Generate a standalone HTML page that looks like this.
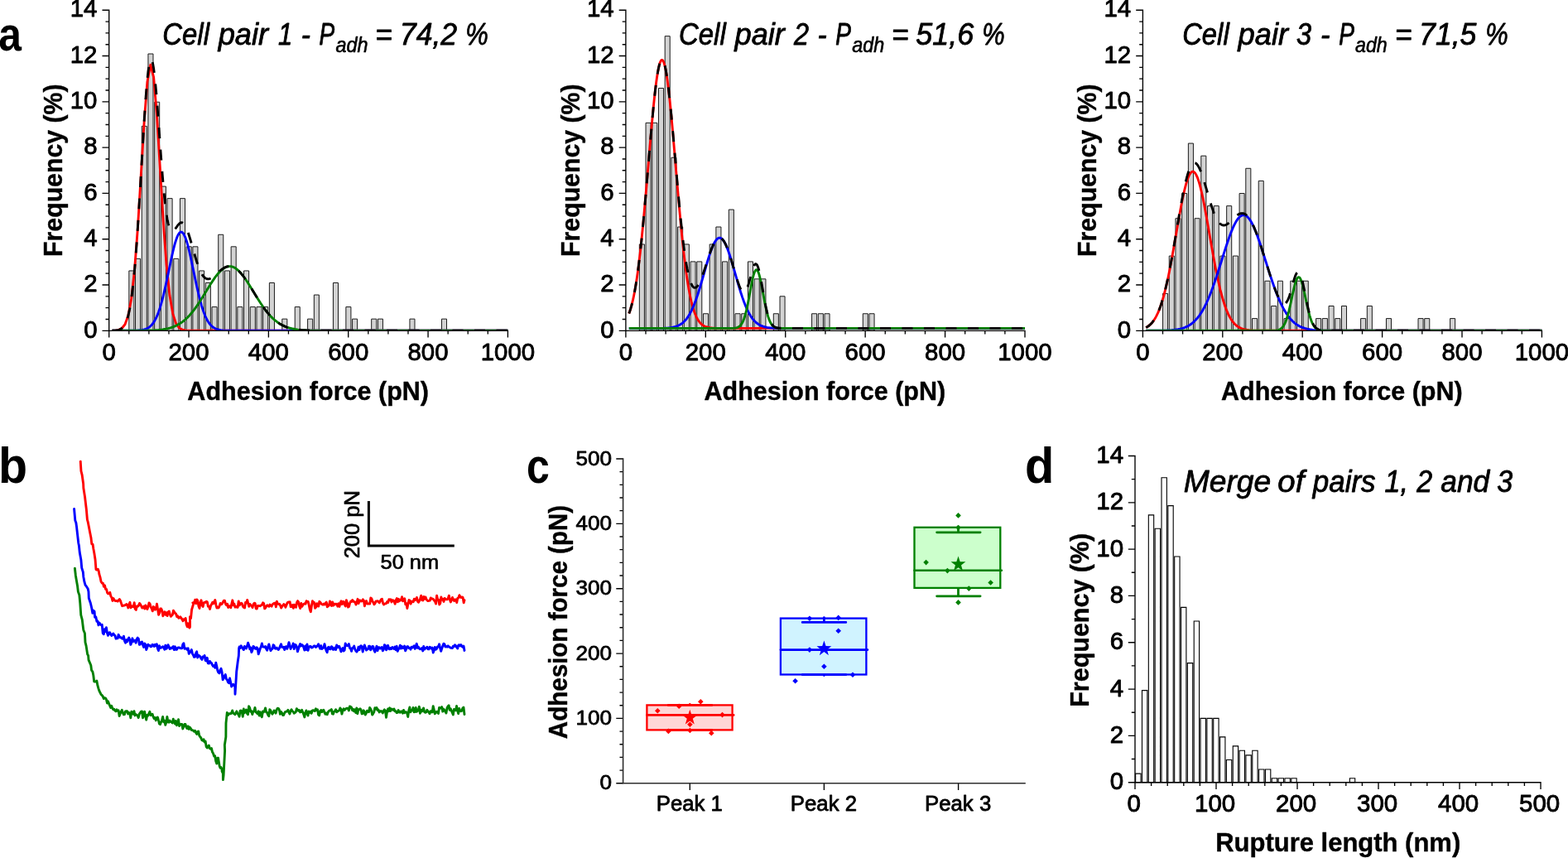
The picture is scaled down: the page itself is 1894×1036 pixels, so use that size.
<!DOCTYPE html>
<html lang="en">
<head>
<meta charset="utf-8">
<title>Figure</title>
<style>
html,body{margin:0;padding:0;background:#fff;}
body{width:1894px;height:1036px;overflow:hidden;}
svg{display:block;}
text{font-family:"Liberation Sans",sans-serif;}
</style>
</head>
<body>
<svg width="1894" height="1036" viewBox="0 0 1894 1036" role="img" aria-label="Figure with panels a, b, c and d">
<rect width="1894" height="1036" fill="#fff"/>
<path d="M155.82 399.3V326.95h6.05V399.3zM163.53 399.3V312.4h6.05V399.3zM171.24 399.3V152.34h6.05V399.3zM178.94 399.3V65.03h6.05V399.3zM186.65 399.3V123.24h6.05V399.3zM194.36 399.3V225.09h6.05V399.3zM202.06 399.3V239.64h6.05V399.3zM209.77 399.3V312.4h6.05V399.3zM217.48 399.3V239.64h6.05V399.3zM225.19 399.3V297.84h6.05V399.3zM232.89 399.3V297.84h6.05V399.3zM240.6 399.3V326.95h6.05V399.3zM248.31 399.3V341.5h6.05V399.3zM256.02 399.3V370.6h6.05V399.3zM263.72 399.3V283.29h6.05V399.3zM271.43 399.3V326.95h6.05V399.3zM279.14 399.3V297.84h6.05V399.3zM286.84 399.3V370.6h6.05V399.3zM294.55 399.3V326.95h6.05V399.3zM302.26 399.3V370.6h6.05V399.3zM309.97 399.3V370.6h6.05V399.3zM317.67 399.3V370.6h6.05V399.3zM325.38 399.3V341.5h6.05V399.3zM340.79 399.3V385.15h6.05V399.3zM356.21 399.3V370.6h6.05V399.3zM371.62 399.3V385.15h6.05V399.3zM379.33 399.3V356.05h6.05V399.3zM402.45 399.3V341.5h6.05V399.3zM417.87 399.3V370.6h6.05V399.3zM425.57 399.3V385.15h6.05V399.3zM448.7 399.3V385.15h6.05V399.3zM456.4 399.3V385.15h6.05V399.3zM494.94 399.3V385.15h6.05V399.3zM533.47 399.3V385.15h6.05V399.3z" fill="#d3d3d3" stroke="#1c1c1c" stroke-width="1" stroke-linejoin="miter"/>
<clipPath id="clip1"><rect x="131.7" y="7.25" width="483.7" height="392.05"/></clipPath>
<g clip-path="url(#clip1)">
<path d="M135.55 399.23 L139.41 399.02 L143.26 398.36 L147.11 396.47 L150.97 391.72 L154.82 381.19 L158.68 360.76 L162.53 326.16 L166.38 275.56 L170.24 212.7 L174.09 148.45 L177.94 98.69 L181.8 78.15 L185.65 93.46 L189.5 139.65 L197.21 266.73 L201.06 319.57 L204.92 356.56 L208.77 378.87 L212.63 390.6 L216.48 395.99 L220.33 398.18 L224.19 398.96 L228.04 399.21 L235.75 399.3 L389.89 399.3 L544.04 399.3 L613.4 399.3" stroke="#ff0000" stroke-width="2.9" stroke-linejoin="round" fill="none"/>
<path d="M135.55 399.3 L159.64 399.25 L165.42 399.1 L169.27 398.81 L172.16 398.39 L174.09 397.95 L176.02 397.33 L176.98 396.94 L177.94 396.47 L178.91 395.94 L179.87 395.31 L180.83 394.59 L181.8 393.76 L182.76 392.82 L183.72 391.74 L184.69 390.52 L185.65 389.15 L186.61 387.61 L187.58 385.89 L188.54 383.99 L189.5 381.89 L190.47 379.58 L191.43 377.06 L192.39 374.32 L193.36 371.36 L194.32 368.18 L196.25 361.17 L198.17 353.36 L200.1 344.86 L203.95 326.56 L206.85 312.77 L208.77 304.16 L209.74 300.16 L210.7 296.42 L211.66 292.98 L212.63 289.88 L213.59 287.16 L214.55 284.85 L215.52 282.98 L216.48 281.56 L217.44 280.63 L218.41 280.18 L219.37 280.23 L220.33 280.78 L221.3 281.81 L222.26 283.31 L223.22 285.28 L224.19 287.67 L225.15 290.47 L226.11 293.64 L227.08 297.14 L228.04 300.94 L229.97 309.25 L232.86 322.84 L236.71 341.3 L238.64 350.03 L240.56 358.14 L242.49 365.48 L243.45 368.84 L244.42 371.97 L245.38 374.89 L246.34 377.58 L247.31 380.06 L248.27 382.33 L249.23 384.39 L250.2 386.25 L251.16 387.93 L252.12 389.44 L253.09 390.78 L254.05 391.97 L255.02 393.01 L255.98 393.94 L256.94 394.74 L257.91 395.44 L258.87 396.05 L259.83 396.57 L260.8 397.02 L262.72 397.73 L264.65 398.23 L266.58 398.59 L269.47 398.92 L273.32 399.15 L281.03 399.28 L319.56 399.3 L358.1 399.3 L396.63 399.3 L435.17 399.3 L473.71 399.3 L512.24 399.3 L550.78 399.3 L589.31 399.3 L613.4 399.3" stroke="#0000ff" stroke-width="2.9" stroke-linejoin="round" fill="none"/>
<path d="M135.55 399.3 L169.27 399.24 L179.87 399.06 L186.61 398.79 L191.43 398.44 L196.25 397.89 L200.1 397.26 L202.99 396.63 L205.88 395.85 L208.77 394.89 L211.66 393.71 L214.55 392.29 L217.44 390.6 L220.33 388.61 L223.22 386.3 L226.11 383.65 L229 380.64 L231.89 377.29 L234.78 373.6 L237.67 369.59 L240.56 365.31 L244.42 359.26 L254.05 343.57 L256.94 339.11 L259.83 334.94 L261.76 332.38 L263.69 330.03 L265.61 327.93 L267.54 326.09 L269.47 324.54 L270.43 323.89 L271.39 323.31 L272.36 322.81 L273.32 322.4 L274.28 322.08 L275.25 321.84 L276.21 321.68 L277.17 321.62 L278.14 321.64 L279.1 321.75 L280.06 321.94 L281.03 322.23 L281.99 322.6 L282.95 323.05 L283.92 323.59 L284.88 324.21 L285.84 324.9 L287.77 326.52 L289.7 328.43 L291.62 330.6 L293.55 333 L296.44 336.98 L299.33 341.31 L304.15 349.02 L310.89 360.03 L314.75 366.04 L317.64 370.28 L320.53 374.24 L323.42 377.87 L326.31 381.17 L329.2 384.11 L332.09 386.71 L334.98 388.96 L337.87 390.9 L340.76 392.54 L343.65 393.92 L346.54 395.06 L349.43 395.99 L352.32 396.75 L356.17 397.52 L360.03 398.08 L364.84 398.56 L370.62 398.91 L379.29 399.16 L395.67 399.28 L434.21 399.3 L472.74 399.3 L511.28 399.3 L549.82 399.3 L588.35 399.3 L613.4 399.3" stroke="#008000" stroke-width="2.9" stroke-linejoin="round" fill="none"/>
<path d="M135.55 399.23 L138.44 399.1 L140.37 398.92 L142.3 398.6 L143.26 398.36 L144.22 398.04 L145.19 397.64 L146.15 397.12 L147.11 396.47 L148.08 395.63 L149.04 394.59 L150 393.3 L150.97 391.71 L151.93 389.76 L152.89 387.4 L153.86 384.56 L154.82 381.17 L155.78 377.17 L156.75 372.47 L157.71 367 L158.68 360.7 L159.64 353.51 L160.6 345.35 L161.57 336.21 L162.53 326.03 L163.49 314.82 L164.46 302.6 L165.42 289.39 L167.35 260.33 L170.24 212.03 L173.13 162.6 L175.05 132.23 L176.02 118.6 L176.98 106.34 L177.94 95.67 L178.91 86.79 L179.87 79.87 L180.83 75.02 L181.8 72.32 L182.76 71.8 L183.72 73.43 L184.69 77.16 L185.65 82.85 L186.61 90.34 L187.58 99.45 L188.54 109.93 L189.5 121.54 L191.43 147.05 L194.32 187.01 L196.25 211.91 L197.21 223.25 L198.17 233.65 L199.14 243.02 L200.1 251.3 L201.06 258.44 L202.03 264.44 L202.99 269.33 L203.95 273.16 L204.92 275.99 L205.88 277.92 L206.85 279.05 L207.81 279.48 L208.77 279.32 L209.74 278.69 L210.7 277.72 L211.66 276.5 L214.55 272.4 L215.52 271.18 L216.48 270.15 L217.44 269.38 L218.41 268.9 L219.37 268.76 L220.33 268.97 L221.3 269.54 L222.26 270.5 L223.22 271.81 L224.19 273.49 L225.15 275.49 L226.11 277.81 L227.08 280.4 L228.04 283.23 L229.97 289.47 L235.75 309.75 L237.67 316.02 L238.64 318.92 L239.6 321.64 L240.56 324.15 L241.53 326.44 L242.49 328.5 L243.45 330.33 L244.42 331.93 L245.38 333.29 L246.34 334.41 L247.31 335.31 L248.27 336 L249.23 336.48 L250.2 336.76 L251.16 336.86 L252.12 336.8 L253.09 336.59 L254.05 336.24 L255.02 335.77 L255.98 335.2 L257.91 333.82 L260.8 331.35 L265.61 327.05 L267.54 325.51 L269.47 324.17 L271.39 323.07 L272.36 322.62 L273.32 322.25 L274.28 321.96 L275.25 321.74 L276.21 321.61 L277.17 321.56 L278.14 321.59 L279.1 321.71 L280.06 321.92 L281.03 322.21 L281.99 322.58 L282.95 323.04 L283.92 323.58 L284.88 324.2 L285.84 324.9 L287.77 326.52 L289.7 328.43 L291.62 330.6 L293.55 333 L296.44 336.98 L299.33 341.31 L304.15 349.02 L310.89 360.03 L314.75 366.04 L317.64 370.28 L320.53 374.24 L323.42 377.87 L326.31 381.17 L329.2 384.11 L332.09 386.71 L334.98 388.96 L337.87 390.9 L340.76 392.54 L343.65 393.92 L346.54 395.06 L349.43 395.99 L352.32 396.75 L356.17 397.52 L360.03 398.08 L364.84 398.56 L370.62 398.91 L379.29 399.16 L395.67 399.28 L434.21 399.3 L472.74 399.3 L511.28 399.3 L549.82 399.3 L588.35 399.3 L613.4 399.3" stroke="#000" stroke-width="2.9" stroke-dasharray="13 13.5" stroke-linejoin="round" fill="none"/>
</g>
<path d="M131.7 11.57L131.7 399.98M131.02 399.3L614.07 399.3M123.5 399.3L131.7 399.3M127.5 385.48L131.7 385.48M127.5 371.65L131.7 371.65M127.5 357.83L131.7 357.83M123.5 344.01L131.7 344.01M127.5 330.18L131.7 330.18M127.5 316.36L131.7 316.36M127.5 302.54L131.7 302.54M123.5 288.71L131.7 288.71M127.5 274.89L131.7 274.89M127.5 261.07L131.7 261.07M127.5 247.24L131.7 247.24M123.5 233.42L131.7 233.42M127.5 219.6L131.7 219.6M127.5 205.78L131.7 205.78M127.5 191.95L131.7 191.95M123.5 178.13L131.7 178.13M127.5 164.31L131.7 164.31M127.5 150.48L131.7 150.48M127.5 136.66L131.7 136.66M123.5 122.84L131.7 122.84M127.5 109.01L131.7 109.01M127.5 95.19L131.7 95.19M127.5 81.37L131.7 81.37M123.5 67.54L131.7 67.54M127.5 53.72L131.7 53.72M127.5 39.9L131.7 39.9M127.5 26.07L131.7 26.07M123.5 12.25L131.7 12.25M131.7 399.3L131.7 407.5M155.78 399.3L155.78 403.5M179.87 399.3L179.87 403.5M203.95 399.3L203.95 403.5M228.04 399.3L228.04 407.5M252.12 399.3L252.12 403.5M276.21 399.3L276.21 403.5M300.29 399.3L300.29 403.5M324.38 399.3L324.38 407.5M348.46 399.3L348.46 403.5M372.55 399.3L372.55 403.5M396.63 399.3L396.63 403.5M420.72 399.3L420.72 407.5M444.8 399.3L444.8 403.5M468.89 399.3L468.89 403.5M492.97 399.3L492.97 403.5M517.06 399.3L517.06 407.5M541.14 399.3L541.14 403.5M565.23 399.3L565.23 403.5M589.31 399.3L589.31 403.5M613.4 399.3L613.4 407.5" stroke="#000" stroke-width="1.35" fill="none"/>
<text transform="matrix(1.0150 0 0 1.0400 101.13 407.50)" font-size="29" stroke="#000" stroke-width="0.88" stroke-linejoin="round">0</text>
<text transform="matrix(1.0150 0 0 1.0400 101.13 352.21)" font-size="29" stroke="#000" stroke-width="0.88" stroke-linejoin="round">2</text>
<text transform="matrix(1.0150 0 0 1.0400 101.13 296.91)" font-size="29" stroke="#000" stroke-width="0.88" stroke-linejoin="round">4</text>
<text transform="matrix(1.0150 0 0 1.0400 101.13 241.62)" font-size="29" stroke="#000" stroke-width="0.88" stroke-linejoin="round">6</text>
<text transform="matrix(1.0150 0 0 1.0400 101.13 186.33)" font-size="29" stroke="#000" stroke-width="0.88" stroke-linejoin="round">8</text>
<text transform="matrix(1.0150 0 0 1.0400 84.76 131.04)" font-size="29" stroke="#000" stroke-width="0.88" stroke-linejoin="round">10</text>
<text transform="matrix(1.0150 0 0 1.0400 84.76 75.74)" font-size="29" stroke="#000" stroke-width="0.88" stroke-linejoin="round">12</text>
<text transform="matrix(1.0150 0 0 1.0400 84.76 20.45)" font-size="29" stroke="#000" stroke-width="0.88" stroke-linejoin="round">14</text>
<text transform="matrix(1.0150 0 0 1.0400 123.51 435.30)" font-size="29" stroke="#000" stroke-width="0.88" stroke-linejoin="round">0</text>
<text transform="matrix(1.0150 0 0 1.0400 203.48 435.30)" font-size="29" stroke="#000" stroke-width="0.88" stroke-linejoin="round">200</text>
<text transform="matrix(1.0150 0 0 1.0400 299.82 435.30)" font-size="29" stroke="#000" stroke-width="0.88" stroke-linejoin="round">400</text>
<text transform="matrix(1.0150 0 0 1.0400 396.16 435.30)" font-size="29" stroke="#000" stroke-width="0.88" stroke-linejoin="round">600</text>
<text transform="matrix(1.0150 0 0 1.0400 492.50 435.30)" font-size="29" stroke="#000" stroke-width="0.88" stroke-linejoin="round">800</text>
<text transform="matrix(1.0150 0 0 1.0400 580.66 435.30)" font-size="29" stroke="#000" stroke-width="0.88" stroke-linejoin="round">1000</text>
<text transform="matrix(0 -1.0164 1.0400 0 75.30 309.97)" font-size="29.8" font-weight="bold" stroke="#000" stroke-width="0.39" stroke-linejoin="round">Frequency (%)</text>
<text transform="matrix(1.0248 0 0 1.0400 226.34 483.10)" font-size="29.8" font-weight="bold" stroke="#000" stroke-width="0.39" stroke-linejoin="round">Adhesion force (pN)</text>
<path d="M772.33 399.3V294.98h6.05V399.3zM780.04 399.3V148.37h6.05V399.3zM787.75 399.3V148.37h6.05V399.3zM795.47 399.3V106.48h6.05V399.3zM803.18 399.3V43.65h6.05V399.3zM810.9 399.3V190.26h6.05V399.3zM818.61 399.3V274.03h6.05V399.3zM826.32 399.3V294.98h6.05V399.3zM834.04 399.3V315.92h6.05V399.3zM841.75 399.3V315.92h6.05V399.3zM849.46 399.3V378.76h6.05V399.3zM857.18 399.3V294.98h6.05V399.3zM864.89 399.3V274.03h6.05V399.3zM872.6 399.3V315.92h6.05V399.3zM880.32 399.3V253.09h6.05V399.3zM888.03 399.3V378.76h6.05V399.3zM895.74 399.3V378.76h6.05V399.3zM903.46 399.3V315.92h6.05V399.3zM911.17 399.3V336.87h6.05V399.3zM918.89 399.3V336.87h6.05V399.3zM934.31 399.3V378.76h6.05V399.3zM942.03 399.3V357.81h6.05V399.3zM980.59 399.3V378.76h6.05V399.3zM988.31 399.3V378.76h6.05V399.3zM996.02 399.3V378.76h6.05V399.3zM1042.3 399.3V378.76h6.05V399.3zM1050.02 399.3V378.76h6.05V399.3z" fill="#d3d3d3" stroke="#1c1c1c" stroke-width="1" stroke-linejoin="miter"/>
<clipPath id="clip2"><rect x="755.9" y="7.25" width="484.1" height="392.05"/></clipPath>
<g clip-path="url(#clip2)">
<path d="M759.76 378.56 L760.72 375.91 L761.69 372.94 L762.65 369.63 L763.61 365.96 L764.58 361.9 L765.54 357.44 L766.51 352.55 L767.47 347.21 L768.43 341.4 L769.4 335.12 L770.36 328.36 L771.33 321.1 L773.26 305.13 L775.18 287.25 L777.11 267.64 L780 235.58 L785.79 167.52 L787.72 145.86 L789.65 125.85 L790.61 116.68 L791.58 108.19 L792.54 100.44 L793.5 93.52 L794.47 87.49 L795.43 82.41 L796.4 78.32 L797.36 75.28 L798.32 73.31 L799.29 72.43 L800.25 72.65 L801.22 73.97 L802.18 76.37 L803.15 79.83 L804.11 84.32 L805.07 89.79 L806.04 96.19 L807 103.45 L807.97 111.5 L808.93 120.28 L810.86 139.65 L812.79 160.89 L819.54 240 L822.43 271.69 L824.36 290.97 L826.29 308.48 L828.21 324.07 L829.18 331.12 L830.14 337.69 L831.11 343.78 L832.07 349.4 L833.04 354.56 L834 359.28 L834.96 363.57 L835.93 367.47 L836.89 371 L837.86 374.17 L838.82 377.01 L839.79 379.54 L840.75 381.79 L841.71 383.79 L842.68 385.55 L843.64 387.09 L844.61 388.45 L845.57 389.62 L846.53 390.65 L847.5 391.53 L848.46 392.3 L849.43 392.95 L850.39 393.51 L851.36 393.99 L853.28 394.74 L855.21 395.27 L857.14 395.64 L860.03 395.99 L863.89 396.23 L870.64 396.37 L909.21 396.4 L947.78 396.4 L986.34 396.4 L1024.91 396.4 L1063.48 396.4 L1102.05 396.4 L1140.62 396.4 L1179.18 396.4 L1217.75 396.4 L1238 396.4" stroke="#ff0000" stroke-width="2.9" stroke-linejoin="round" fill="none"/>
<path d="M759.76 396.4 L794.47 396.36 L802.18 396.21 L807 395.94 L809.9 395.64 L812.79 395.18 L815.68 394.5 L817.61 393.86 L819.54 393.06 L821.47 392.04 L823.39 390.78 L824.36 390.04 L825.32 389.22 L826.29 388.32 L827.25 387.33 L828.21 386.24 L829.18 385.05 L830.14 383.76 L831.11 382.36 L832.07 380.85 L833.04 379.21 L834.96 375.57 L836.89 371.43 L838.82 366.78 L840.75 361.62 L842.68 356 L845.57 346.8 L849.43 333.56 L854.25 316.77 L856.18 310.46 L858.11 304.62 L859.07 301.93 L860.03 299.41 L861 297.09 L861.96 294.98 L862.93 293.1 L863.89 291.45 L864.85 290.06 L865.82 288.94 L866.78 288.09 L867.75 287.52 L868.71 287.23 L869.68 287.23 L870.64 287.52 L871.6 288.09 L872.57 288.94 L873.53 290.06 L874.5 291.45 L875.46 293.1 L876.42 294.98 L877.39 297.09 L878.35 299.41 L879.32 301.93 L881.25 307.48 L883.17 313.57 L886.07 323.39 L891.85 343.57 L894.74 353.03 L896.67 358.87 L898.6 364.26 L900.53 369.17 L902.46 373.57 L904.39 377.45 L905.35 379.21 L906.32 380.85 L907.28 382.36 L908.24 383.76 L909.21 385.05 L910.17 386.24 L911.14 387.33 L912.1 388.32 L913.06 389.22 L914.03 390.04 L915.96 391.44 L917.89 392.58 L919.81 393.48 L921.74 394.2 L923.67 394.76 L926.56 395.36 L929.46 395.76 L933.31 396.07 L939.1 396.29 L951.63 396.39 L990.2 396.4 L1028.77 396.4 L1067.34 396.4 L1105.9 396.4 L1144.47 396.4 L1183.04 396.4 L1221.61 396.4 L1238 396.4" stroke="#0000ff" stroke-width="2.9" stroke-linejoin="round" fill="none"/>
<path d="M759.76 396.4 L798.32 396.4 L836.89 396.4 L875.46 396.4 L884.14 396.34 L887.03 396.17 L888.96 395.9 L889.92 395.67 L890.89 395.35 L891.85 394.91 L892.82 394.32 L893.78 393.54 L894.74 392.53 L895.71 391.24 L896.67 389.61 L897.64 387.62 L898.6 385.2 L899.57 382.33 L900.53 378.99 L901.49 375.18 L902.46 370.92 L903.42 366.26 L905.35 356.1 L907.28 345.66 L908.24 340.74 L909.21 336.25 L910.17 332.38 L911.14 329.27 L912.1 327.06 L913.06 325.85 L914.03 325.69 L914.99 326.59 L915.96 328.5 L916.92 331.36 L917.89 335.02 L918.85 339.34 L920.78 349.27 L923.67 364.8 L924.63 369.56 L925.6 373.95 L926.56 377.89 L927.53 381.38 L928.49 384.39 L929.46 386.94 L930.42 389.06 L931.38 390.79 L932.35 392.17 L933.31 393.26 L934.28 394.11 L935.24 394.75 L936.21 395.23 L937.17 395.58 L938.13 395.84 L940.06 396.14 L942.95 396.33 L951.63 396.4 L990.2 396.4 L1028.77 396.4 L1067.34 396.4 L1105.9 396.4 L1144.47 396.4 L1183.04 396.4 L1221.61 396.4 L1238 396.4" stroke="#008000" stroke-width="2.9" stroke-linejoin="round" fill="none"/>
<path d="M759.76 378.56 L760.72 375.91 L761.69 372.94 L762.65 369.63 L763.61 365.96 L764.58 361.9 L765.54 357.44 L766.51 352.55 L767.47 347.21 L768.43 341.4 L769.4 335.12 L770.36 328.36 L771.33 321.1 L773.26 305.13 L775.18 287.25 L777.11 267.64 L780 235.58 L785.79 167.52 L787.72 145.85 L789.65 125.84 L790.61 116.67 L791.58 108.17 L792.54 100.42 L793.5 93.49 L794.47 87.45 L795.43 82.36 L796.4 78.26 L797.36 75.21 L798.32 73.22 L799.29 72.32 L800.25 72.52 L801.22 73.81 L802.18 76.18 L803.15 79.61 L804.11 84.05 L805.07 89.47 L806.04 95.8 L807 102.99 L807.97 110.96 L808.93 119.63 L810.86 138.76 L813.75 170.58 L818.57 225.97 L820.5 247.06 L822.43 266.74 L824.36 284.61 L825.32 292.78 L826.29 300.4 L827.25 307.45 L828.21 313.91 L829.18 319.78 L830.14 325.06 L831.11 329.74 L832.07 333.85 L833.04 337.37 L834 340.33 L834.96 342.75 L835.93 344.64 L836.89 346.03 L837.86 346.94 L838.82 347.39 L839.79 347.4 L840.75 347.02 L841.71 346.26 L842.68 345.15 L843.64 343.72 L844.61 342 L845.57 340.03 L846.53 337.82 L847.5 335.41 L849.43 330.11 L852.32 321.39 L856.18 309.54 L858.11 304.01 L860.03 299.01 L861 296.76 L861.96 294.72 L862.93 292.88 L863.89 291.28 L864.85 289.93 L865.82 288.83 L866.78 288 L867.75 287.45 L868.71 287.18 L869.68 287.19 L870.64 287.48 L871.6 288.06 L872.57 288.92 L873.53 290.05 L874.5 291.44 L875.46 293.09 L876.42 294.97 L877.39 297.08 L878.35 299.41 L879.32 301.92 L881.25 307.46 L883.17 313.53 L889.92 336.2 L891.85 342.08 L892.82 344.72 L893.78 347.1 L894.74 349.16 L895.71 350.84 L896.67 352.08 L897.64 352.84 L898.6 353.06 L899.57 352.71 L900.53 351.76 L901.49 350.21 L902.46 348.09 L903.42 345.44 L904.39 342.34 L906.32 335.29 L908.24 328.11 L909.21 324.91 L910.17 322.22 L911.14 320.2 L912.1 318.98 L913.06 318.67 L914.03 319.33 L914.99 320.97 L915.96 323.55 L916.92 327 L917.89 331.2 L918.85 336 L920.78 346.74 L923.67 363.16 L924.63 368.15 L925.6 372.73 L926.56 376.86 L927.53 380.49 L928.49 383.63 L929.46 386.29 L930.42 388.51 L931.38 390.33 L932.35 391.78 L933.31 392.94 L934.28 393.83 L935.24 394.52 L936.21 395.04 L937.17 395.42 L938.13 395.7 L940.06 396.05 L942.95 396.28 L948.74 396.38 L987.31 396.4 L1025.88 396.4 L1064.44 396.4 L1103.01 396.4 L1141.58 396.4 L1180.15 396.4 L1218.72 396.4 L1238 396.4" stroke="#000" stroke-width="2.9" stroke-dasharray="13 13.5" stroke-linejoin="round" fill="none"/>
</g>
<path d="M755.9 11.57L755.9 399.98M755.23 399.3L1238.67 399.3M747.7 399.3L755.9 399.3M751.7 385.48L755.9 385.48M751.7 371.65L755.9 371.65M751.7 357.83L755.9 357.83M747.7 344.01L755.9 344.01M751.7 330.18L755.9 330.18M751.7 316.36L755.9 316.36M751.7 302.54L755.9 302.54M747.7 288.71L755.9 288.71M751.7 274.89L755.9 274.89M751.7 261.07L755.9 261.07M751.7 247.24L755.9 247.24M747.7 233.42L755.9 233.42M751.7 219.6L755.9 219.6M751.7 205.78L755.9 205.78M751.7 191.95L755.9 191.95M747.7 178.13L755.9 178.13M751.7 164.31L755.9 164.31M751.7 150.48L755.9 150.48M751.7 136.66L755.9 136.66M747.7 122.84L755.9 122.84M751.7 109.01L755.9 109.01M751.7 95.19L755.9 95.19M751.7 81.37L755.9 81.37M747.7 67.54L755.9 67.54M751.7 53.72L755.9 53.72M751.7 39.9L755.9 39.9M751.7 26.07L755.9 26.07M747.7 12.25L755.9 12.25M755.9 399.3L755.9 407.5M780 399.3L780 403.5M804.11 399.3L804.11 403.5M828.21 399.3L828.21 403.5M852.32 399.3L852.32 407.5M876.42 399.3L876.42 403.5M900.53 399.3L900.53 403.5M924.63 399.3L924.63 403.5M948.74 399.3L948.74 407.5M972.85 399.3L972.85 403.5M996.95 399.3L996.95 403.5M1021.06 399.3L1021.06 403.5M1045.16 399.3L1045.16 407.5M1069.26 399.3L1069.26 403.5M1093.37 399.3L1093.37 403.5M1117.47 399.3L1117.47 403.5M1141.58 399.3L1141.58 407.5M1165.68 399.3L1165.68 403.5M1189.79 399.3L1189.79 403.5M1213.89 399.3L1213.89 403.5M1238 399.3L1238 407.5" stroke="#000" stroke-width="1.35" fill="none"/>
<text transform="matrix(1.0150 0 0 1.0400 725.33 407.50)" font-size="29" stroke="#000" stroke-width="0.88" stroke-linejoin="round">0</text>
<text transform="matrix(1.0150 0 0 1.0400 725.33 352.21)" font-size="29" stroke="#000" stroke-width="0.88" stroke-linejoin="round">2</text>
<text transform="matrix(1.0150 0 0 1.0400 725.33 296.91)" font-size="29" stroke="#000" stroke-width="0.88" stroke-linejoin="round">4</text>
<text transform="matrix(1.0150 0 0 1.0400 725.33 241.62)" font-size="29" stroke="#000" stroke-width="0.88" stroke-linejoin="round">6</text>
<text transform="matrix(1.0150 0 0 1.0400 725.33 186.33)" font-size="29" stroke="#000" stroke-width="0.88" stroke-linejoin="round">8</text>
<text transform="matrix(1.0150 0 0 1.0400 708.96 131.04)" font-size="29" stroke="#000" stroke-width="0.88" stroke-linejoin="round">10</text>
<text transform="matrix(1.0150 0 0 1.0400 708.96 75.74)" font-size="29" stroke="#000" stroke-width="0.88" stroke-linejoin="round">12</text>
<text transform="matrix(1.0150 0 0 1.0400 708.96 20.45)" font-size="29" stroke="#000" stroke-width="0.88" stroke-linejoin="round">14</text>
<text transform="matrix(1.0150 0 0 1.0400 747.71 435.30)" font-size="29" stroke="#000" stroke-width="0.88" stroke-linejoin="round">0</text>
<text transform="matrix(1.0150 0 0 1.0400 827.76 435.30)" font-size="29" stroke="#000" stroke-width="0.88" stroke-linejoin="round">200</text>
<text transform="matrix(1.0150 0 0 1.0400 924.18 435.30)" font-size="29" stroke="#000" stroke-width="0.88" stroke-linejoin="round">400</text>
<text transform="matrix(1.0150 0 0 1.0400 1020.60 435.30)" font-size="29" stroke="#000" stroke-width="0.88" stroke-linejoin="round">600</text>
<text transform="matrix(1.0150 0 0 1.0400 1117.02 435.30)" font-size="29" stroke="#000" stroke-width="0.88" stroke-linejoin="round">800</text>
<text transform="matrix(1.0150 0 0 1.0400 1205.26 435.30)" font-size="29" stroke="#000" stroke-width="0.88" stroke-linejoin="round">1000</text>
<text transform="matrix(0 -1.0164 1.0400 0 699.50 309.97)" font-size="29.8" font-weight="bold" stroke="#000" stroke-width="0.39" stroke-linejoin="round">Frequency (%)</text>
<text transform="matrix(1.0248 0 0 1.0400 850.54 483.10)" font-size="29.8" font-weight="bold" stroke="#000" stroke-width="0.39" stroke-linejoin="round">Adhesion force (pN)</text>
<path d="M1404.54 399.3V354.38h6.05V399.3zM1412.25 399.3V309.06h6.05V399.3zM1419.96 399.3V263.73h6.05V399.3zM1427.67 399.3V233.52h6.05V399.3zM1435.38 399.3V173.09h6.05V399.3zM1443.1 399.3V263.73h6.05V399.3zM1450.81 399.3V188.2h6.05V399.3zM1458.52 399.3V248.63h6.05V399.3zM1466.23 399.3V248.63h6.05V399.3zM1473.94 399.3V309.06h6.05V399.3zM1481.66 399.3V248.63h6.05V399.3zM1489.37 399.3V309.06h6.05V399.3zM1497.08 399.3V233.52h6.05V399.3zM1504.79 399.3V203.3h6.05V399.3zM1512.5 399.3V384.59h6.05V399.3zM1520.22 399.3V218.41h6.05V399.3zM1527.93 399.3V339.27h6.05V399.3zM1535.64 399.3V369.49h6.05V399.3zM1543.35 399.3V339.27h6.05V399.3zM1551.06 399.3V384.59h6.05V399.3zM1558.78 399.3V339.27h6.05V399.3zM1566.49 399.3V339.27h6.05V399.3zM1574.2 399.3V339.27h6.05V399.3zM1589.62 399.3V384.59h6.05V399.3zM1597.34 399.3V384.59h6.05V399.3zM1605.05 399.3V369.49h6.05V399.3zM1612.76 399.3V384.59h6.05V399.3zM1620.47 399.3V369.49h6.05V399.3zM1643.61 399.3V384.59h6.05V399.3zM1651.32 399.3V369.49h6.05V399.3zM1674.46 399.3V384.59h6.05V399.3zM1713.02 399.3V384.59h6.05V399.3zM1720.73 399.3V384.59h6.05V399.3zM1751.58 399.3V384.59h6.05V399.3z" fill="#d3d3d3" stroke="#1c1c1c" stroke-width="1" stroke-linejoin="miter"/>
<clipPath id="clip3"><rect x="1380.4" y="7.25" width="484" height="392.05"/></clipPath>
<g clip-path="url(#clip3)">
<path d="M1384.26 395.55 L1386.18 394.42 L1387.15 393.75 L1388.11 393.01 L1389.08 392.18 L1390.04 391.25 L1391 390.23 L1391.97 389.11 L1392.93 387.87 L1393.9 386.51 L1394.86 385.01 L1395.82 383.39 L1396.79 381.61 L1397.75 379.69 L1398.72 377.6 L1399.68 375.35 L1400.64 372.92 L1401.61 370.32 L1403.54 364.55 L1405.46 358.01 L1407.39 350.69 L1409.32 342.59 L1411.25 333.74 L1413.18 324.21 L1416.07 308.82 L1420.89 281.37 L1424.74 259.4 L1426.67 249.01 L1428.6 239.32 L1430.53 230.55 L1431.49 226.58 L1432.46 222.93 L1433.42 219.61 L1434.38 216.64 L1435.35 214.05 L1436.31 211.85 L1437.28 210.07 L1438.24 208.7 L1439.2 207.76 L1440.17 207.25 L1441.13 207.18 L1442.1 207.56 L1443.06 208.37 L1444.02 209.61 L1444.99 211.27 L1445.95 213.35 L1446.92 215.82 L1447.88 218.68 L1448.84 221.9 L1449.81 225.45 L1450.77 229.33 L1452.7 237.94 L1454.63 247.51 L1457.52 263.16 L1465.23 307.22 L1468.12 322.73 L1470.05 332.36 L1471.98 341.31 L1473.91 349.52 L1475.84 356.96 L1477.76 363.61 L1479.69 369.5 L1480.66 372.16 L1481.62 374.64 L1482.58 376.94 L1483.55 379.08 L1484.51 381.05 L1485.48 382.87 L1486.44 384.54 L1487.4 386.07 L1488.37 387.47 L1489.33 388.75 L1490.3 389.91 L1491.26 390.96 L1492.22 391.91 L1493.19 392.77 L1494.15 393.54 L1495.12 394.23 L1497.04 395.4 L1498.97 396.33 L1500.9 397.06 L1502.83 397.62 L1505.72 398.23 L1508.61 398.63 L1512.47 398.96 L1518.25 399.18 L1529.82 399.29 L1568.38 399.3 L1606.94 399.3 L1645.5 399.3 L1684.06 399.3 L1722.62 399.3 L1761.18 399.3 L1799.74 399.3 L1838.3 399.3 L1862.4 399.3" stroke="#ff0000" stroke-width="2.9" stroke-linejoin="round" fill="none"/>
<path d="M1384.26 399.29 L1401.61 399.19 L1409.32 398.99 L1415.1 398.66 L1418.96 398.28 L1422.82 397.71 L1425.71 397.1 L1428.6 396.31 L1431.49 395.28 L1433.42 394.43 L1435.35 393.44 L1437.28 392.28 L1439.2 390.94 L1441.13 389.39 L1443.06 387.61 L1444.99 385.59 L1446.92 383.31 L1448.84 380.75 L1450.77 377.88 L1452.7 374.71 L1454.63 371.22 L1456.56 367.39 L1458.48 363.24 L1460.41 358.77 L1463.3 351.46 L1466.2 343.52 L1469.09 335.02 L1473.91 320 L1480.66 298.66 L1483.55 290.02 L1485.48 284.62 L1487.4 279.58 L1489.33 274.99 L1491.26 270.89 L1492.22 269.05 L1493.19 267.36 L1494.15 265.83 L1495.12 264.45 L1496.08 263.25 L1497.04 262.21 L1498.01 261.34 L1498.97 260.66 L1499.94 260.15 L1500.9 259.83 L1501.86 259.69 L1502.83 259.74 L1503.79 259.97 L1504.76 260.38 L1505.72 260.98 L1506.68 261.75 L1507.65 262.7 L1508.61 263.83 L1509.58 265.12 L1510.54 266.58 L1511.5 268.19 L1512.47 269.96 L1513.43 271.87 L1515.36 276.09 L1517.29 280.8 L1519.22 285.94 L1522.11 294.27 L1525.96 306.18 L1533.68 330.6 L1536.57 339.33 L1539.46 347.57 L1542.35 355.2 L1544.28 359.91 L1546.21 364.31 L1548.14 368.38 L1550.06 372.12 L1551.99 375.53 L1553.92 378.63 L1555.85 381.41 L1557.78 383.91 L1559.7 386.12 L1561.63 388.08 L1563.56 389.79 L1565.49 391.29 L1567.42 392.59 L1569.34 393.7 L1571.27 394.66 L1573.2 395.47 L1576.09 396.46 L1578.98 397.22 L1581.88 397.79 L1585.73 398.34 L1590.55 398.77 L1596.34 399.05 L1605.98 399.24 L1635.86 399.3 L1674.42 399.3 L1712.98 399.3 L1751.54 399.3 L1790.1 399.3 L1828.66 399.3 L1862.4 399.3" stroke="#0000ff" stroke-width="2.9" stroke-linejoin="round" fill="none"/>
<path d="M1384.26 399.3 L1422.82 399.3 L1461.38 399.3 L1499.94 399.3 L1535.6 399.28 L1539.46 399.16 L1541.39 398.99 L1543.32 398.66 L1544.28 398.4 L1545.24 398.05 L1546.21 397.58 L1547.17 396.97 L1548.14 396.18 L1549.1 395.18 L1550.06 393.93 L1551.03 392.4 L1551.99 390.54 L1552.96 388.34 L1553.92 385.76 L1554.88 382.8 L1555.85 379.46 L1556.81 375.76 L1558.74 367.46 L1562.6 349.68 L1563.56 345.68 L1564.52 342.13 L1565.49 339.15 L1566.45 336.85 L1567.42 335.33 L1568.38 334.65 L1569.34 334.82 L1570.31 335.84 L1571.27 337.68 L1572.24 340.26 L1573.2 343.49 L1574.16 347.23 L1576.09 355.77 L1578.98 369.2 L1579.95 373.38 L1580.91 377.28 L1581.88 380.84 L1582.84 384.03 L1583.8 386.84 L1584.77 389.27 L1585.73 391.33 L1586.7 393.05 L1587.66 394.46 L1588.62 395.61 L1589.59 396.52 L1590.55 397.23 L1591.52 397.78 L1592.48 398.2 L1593.44 398.52 L1594.41 398.75 L1596.34 399.04 L1599.23 399.22 L1606.94 399.3 L1645.5 399.3 L1684.06 399.3 L1722.62 399.3 L1761.18 399.3 L1799.74 399.3 L1838.3 399.3 L1862.4 399.3" stroke="#008000" stroke-width="2.9" stroke-linejoin="round" fill="none"/>
<path d="M1384.26 395.55 L1386.18 394.41 L1387.15 393.74 L1388.11 392.99 L1389.08 392.16 L1390.04 391.24 L1391 390.21 L1391.97 389.08 L1392.93 387.84 L1393.9 386.47 L1394.86 384.98 L1395.82 383.34 L1396.79 381.56 L1397.75 379.63 L1398.72 377.53 L1399.68 375.27 L1400.64 372.83 L1401.61 370.21 L1402.57 367.4 L1404.5 361.21 L1406.43 354.24 L1408.36 346.46 L1410.28 337.91 L1412.21 328.61 L1415.1 313.44 L1418 297.1 L1424.74 257.43 L1427.64 241.36 L1429.56 231.5 L1431.49 222.56 L1432.46 218.5 L1433.42 214.74 L1434.38 211.3 L1435.35 208.19 L1436.31 205.44 L1437.28 203.05 L1438.24 201.03 L1439.2 199.39 L1440.17 198.14 L1441.13 197.27 L1442.1 196.79 L1443.06 196.68 L1444.02 196.94 L1444.99 197.57 L1445.95 198.54 L1446.92 199.84 L1447.88 201.44 L1448.84 203.34 L1449.81 205.51 L1450.77 207.91 L1451.74 210.54 L1453.66 216.32 L1456.56 225.9 L1461.38 242.38 L1463.3 248.52 L1465.23 254.15 L1466.2 256.73 L1467.16 259.12 L1468.12 261.33 L1469.09 263.34 L1470.05 265.14 L1471.02 266.73 L1471.98 268.1 L1472.94 269.27 L1473.91 270.22 L1474.87 270.97 L1475.84 271.51 L1476.8 271.86 L1477.76 272.02 L1478.73 272.01 L1479.69 271.84 L1480.66 271.52 L1481.62 271.06 L1482.58 270.48 L1483.55 269.8 L1485.48 268.19 L1488.37 265.4 L1491.26 262.55 L1493.19 260.83 L1494.15 260.07 L1495.12 259.38 L1496.08 258.79 L1497.04 258.31 L1498.01 257.93 L1498.97 257.69 L1499.94 257.57 L1500.9 257.59 L1501.86 257.75 L1502.83 258.06 L1503.79 258.52 L1504.76 259.14 L1505.72 259.91 L1506.68 260.84 L1507.65 261.92 L1508.61 263.16 L1509.58 264.56 L1510.54 266.1 L1511.5 267.78 L1512.47 269.61 L1514.4 273.67 L1516.32 278.22 L1518.25 283.2 L1521.14 291.36 L1524.04 300.11 L1533.68 330.59 L1536.57 339.29 L1539.46 347.42 L1541.39 352.42 L1543.32 356.96 L1544.28 359.02 L1545.24 360.9 L1546.21 362.59 L1547.17 364.05 L1548.14 365.26 L1549.1 366.17 L1550.06 366.75 L1551.03 366.97 L1551.99 366.78 L1552.96 366.16 L1553.92 365.09 L1554.88 363.56 L1555.85 361.58 L1556.81 359.16 L1557.78 356.35 L1558.74 353.21 L1562.6 339.34 L1563.56 336.17 L1564.52 333.4 L1565.49 331.14 L1566.45 329.52 L1567.42 328.62 L1568.38 328.51 L1569.34 329.22 L1570.31 330.74 L1571.27 333.04 L1572.24 336.04 L1573.2 339.66 L1574.16 343.76 L1576.09 352.93 L1578.98 367.12 L1579.95 371.51 L1580.91 375.6 L1581.88 379.33 L1582.84 382.68 L1583.8 385.63 L1584.77 388.19 L1585.73 390.36 L1586.7 392.19 L1587.66 393.7 L1588.62 394.93 L1589.59 395.92 L1590.55 396.7 L1591.52 397.31 L1592.48 397.78 L1593.44 398.15 L1594.41 398.42 L1596.34 398.78 L1599.23 399.05 L1605.01 399.22 L1627.18 399.3 L1665.74 399.3 L1704.3 399.3 L1742.86 399.3 L1781.42 399.3 L1819.98 399.3 L1858.54 399.3 L1862.4 399.3" stroke="#000" stroke-width="2.9" stroke-dasharray="13 13.5" stroke-linejoin="round" fill="none"/>
</g>
<path d="M1380.4 11.57L1380.4 399.98M1379.73 399.3L1863.08 399.3M1372.2 399.3L1380.4 399.3M1376.2 385.48L1380.4 385.48M1376.2 371.65L1380.4 371.65M1376.2 357.83L1380.4 357.83M1372.2 344.01L1380.4 344.01M1376.2 330.18L1380.4 330.18M1376.2 316.36L1380.4 316.36M1376.2 302.54L1380.4 302.54M1372.2 288.71L1380.4 288.71M1376.2 274.89L1380.4 274.89M1376.2 261.07L1380.4 261.07M1376.2 247.24L1380.4 247.24M1372.2 233.42L1380.4 233.42M1376.2 219.6L1380.4 219.6M1376.2 205.78L1380.4 205.78M1376.2 191.95L1380.4 191.95M1372.2 178.13L1380.4 178.13M1376.2 164.31L1380.4 164.31M1376.2 150.48L1380.4 150.48M1376.2 136.66L1380.4 136.66M1372.2 122.84L1380.4 122.84M1376.2 109.01L1380.4 109.01M1376.2 95.19L1380.4 95.19M1376.2 81.37L1380.4 81.37M1372.2 67.54L1380.4 67.54M1376.2 53.72L1380.4 53.72M1376.2 39.9L1380.4 39.9M1376.2 26.07L1380.4 26.07M1372.2 12.25L1380.4 12.25M1380.4 399.3L1380.4 407.5M1404.5 399.3L1404.5 403.5M1428.6 399.3L1428.6 403.5M1452.7 399.3L1452.7 403.5M1476.8 399.3L1476.8 407.5M1500.9 399.3L1500.9 403.5M1525 399.3L1525 403.5M1549.1 399.3L1549.1 403.5M1573.2 399.3L1573.2 407.5M1597.3 399.3L1597.3 403.5M1621.4 399.3L1621.4 403.5M1645.5 399.3L1645.5 403.5M1669.6 399.3L1669.6 407.5M1693.7 399.3L1693.7 403.5M1717.8 399.3L1717.8 403.5M1741.9 399.3L1741.9 403.5M1766 399.3L1766 407.5M1790.1 399.3L1790.1 403.5M1814.2 399.3L1814.2 403.5M1838.3 399.3L1838.3 403.5M1862.4 399.3L1862.4 407.5" stroke="#000" stroke-width="1.35" fill="none"/>
<text transform="matrix(1.0150 0 0 1.0400 1349.83 407.50)" font-size="29" stroke="#000" stroke-width="0.88" stroke-linejoin="round">0</text>
<text transform="matrix(1.0150 0 0 1.0400 1349.83 352.21)" font-size="29" stroke="#000" stroke-width="0.88" stroke-linejoin="round">2</text>
<text transform="matrix(1.0150 0 0 1.0400 1349.83 296.91)" font-size="29" stroke="#000" stroke-width="0.88" stroke-linejoin="round">4</text>
<text transform="matrix(1.0150 0 0 1.0400 1349.83 241.62)" font-size="29" stroke="#000" stroke-width="0.88" stroke-linejoin="round">6</text>
<text transform="matrix(1.0150 0 0 1.0400 1349.83 186.33)" font-size="29" stroke="#000" stroke-width="0.88" stroke-linejoin="round">8</text>
<text transform="matrix(1.0150 0 0 1.0400 1333.46 131.04)" font-size="29" stroke="#000" stroke-width="0.88" stroke-linejoin="round">10</text>
<text transform="matrix(1.0150 0 0 1.0400 1333.46 75.74)" font-size="29" stroke="#000" stroke-width="0.88" stroke-linejoin="round">12</text>
<text transform="matrix(1.0150 0 0 1.0400 1333.46 20.45)" font-size="29" stroke="#000" stroke-width="0.88" stroke-linejoin="round">14</text>
<text transform="matrix(1.0150 0 0 1.0400 1372.21 435.30)" font-size="29" stroke="#000" stroke-width="0.88" stroke-linejoin="round">0</text>
<text transform="matrix(1.0150 0 0 1.0400 1452.24 435.30)" font-size="29" stroke="#000" stroke-width="0.88" stroke-linejoin="round">200</text>
<text transform="matrix(1.0150 0 0 1.0400 1548.64 435.30)" font-size="29" stroke="#000" stroke-width="0.88" stroke-linejoin="round">400</text>
<text transform="matrix(1.0150 0 0 1.0400 1645.04 435.30)" font-size="29" stroke="#000" stroke-width="0.88" stroke-linejoin="round">600</text>
<text transform="matrix(1.0150 0 0 1.0400 1741.44 435.30)" font-size="29" stroke="#000" stroke-width="0.88" stroke-linejoin="round">800</text>
<text transform="matrix(1.0150 0 0 1.0400 1829.66 435.30)" font-size="29" stroke="#000" stroke-width="0.88" stroke-linejoin="round">1000</text>
<text transform="matrix(0 -1.0164 1.0400 0 1324.00 309.97)" font-size="29.8" font-weight="bold" stroke="#000" stroke-width="0.39" stroke-linejoin="round">Frequency (%)</text>
<text transform="matrix(1.0248 0 0 1.0400 1475.04 483.10)" font-size="29.8" font-weight="bold" stroke="#000" stroke-width="0.39" stroke-linejoin="round">Adhesion force (pN)</text>
<text transform="matrix(0.8989 0 0 1.0000 196.29 53.70)" font-size="36.6" font-style="italic" stroke="#000" stroke-width="0.84" stroke-linejoin="round">Cell</text>
<text transform="matrix(0.9899 0 0 1.0000 263.71 53.70)" font-size="36.6" font-style="italic" stroke="#000" stroke-width="0.8" stroke-linejoin="round">pair</text>
<text transform="matrix(0.8473 0 0 1.0000 336.12 53.70)" font-size="36.6" font-style="italic" stroke="#000" stroke-width="0.87" stroke-linejoin="round">1</text>
<text transform="matrix(0.9142 0 0 1.0000 363.73 53.70)" font-size="36.6" font-style="italic" stroke="#000" stroke-width="0.84" stroke-linejoin="round">-</text>
<text transform="matrix(0.7633 0 0 1.0000 385.46 53.70)" font-size="36.6" font-style="italic" stroke="#000" stroke-width="0.91" stroke-linejoin="round">P</text>
<text transform="matrix(0.9392 0 0 1.0000 405.42 63.30)" font-size="24.89" font-style="italic" stroke="#000" stroke-width="0.62" stroke-linejoin="round">adh</text>
<text transform="matrix(0.9577 0 0 1.0000 453.22 53.70)" font-size="36.6" font-style="italic" stroke="#000" stroke-width="0.82" stroke-linejoin="round">=</text>
<text transform="matrix(0.9731 0 0 1.0000 482.86 53.70)" font-size="36.6" font-style="italic" stroke="#000" stroke-width="0.81" stroke-linejoin="round">74,2</text>
<text transform="matrix(0.8461 0 0 1.0000 562.23 53.70)" font-size="36.6" font-style="italic" stroke="#000" stroke-width="0.87" stroke-linejoin="round">%</text>
<text transform="matrix(0.8989 0 0 1.0000 820.09 53.70)" font-size="36.6" font-style="italic" stroke="#000" stroke-width="0.84" stroke-linejoin="round">Cell</text>
<text transform="matrix(0.9899 0 0 1.0000 887.51 53.70)" font-size="36.6" font-style="italic" stroke="#000" stroke-width="0.8" stroke-linejoin="round">pair</text>
<text transform="matrix(0.8823 0 0 1.0000 958.96 53.70)" font-size="36.6" font-style="italic" stroke="#000" stroke-width="0.85" stroke-linejoin="round">2</text>
<text transform="matrix(0.9142 0 0 1.0000 987.53 53.70)" font-size="36.6" font-style="italic" stroke="#000" stroke-width="0.84" stroke-linejoin="round">-</text>
<text transform="matrix(0.7633 0 0 1.0000 1009.26 53.70)" font-size="36.6" font-style="italic" stroke="#000" stroke-width="0.91" stroke-linejoin="round">P</text>
<text transform="matrix(0.9392 0 0 1.0000 1029.22 63.30)" font-size="24.89" font-style="italic" stroke="#000" stroke-width="0.62" stroke-linejoin="round">adh</text>
<text transform="matrix(0.9577 0 0 1.0000 1077.02 53.70)" font-size="36.6" font-style="italic" stroke="#000" stroke-width="0.82" stroke-linejoin="round">=</text>
<text transform="matrix(0.9805 0 0 1.0000 1106.30 53.70)" font-size="36.6" font-style="italic" stroke="#000" stroke-width="0.81" stroke-linejoin="round">51,6</text>
<text transform="matrix(0.8426 0 0 1.0000 1186.14 53.70)" font-size="36.6" font-style="italic" stroke="#000" stroke-width="0.87" stroke-linejoin="round">%</text>
<text transform="matrix(0.8957 0 0 1.0000 1428.20 53.70)" font-size="36.6" font-style="italic" stroke="#000" stroke-width="0.84" stroke-linejoin="round">Cell</text>
<text transform="matrix(0.9899 0 0 1.0000 1495.61 53.70)" font-size="36.6" font-style="italic" stroke="#000" stroke-width="0.8" stroke-linejoin="round">pair</text>
<text transform="matrix(0.8880 0 0 1.0000 1566.09 53.70)" font-size="36.6" font-style="italic" stroke="#000" stroke-width="0.85" stroke-linejoin="round">3</text>
<text transform="matrix(0.9458 0 0 1.0000 1594.97 53.70)" font-size="36.6" font-style="italic" stroke="#000" stroke-width="0.82" stroke-linejoin="round">-</text>
<text transform="matrix(0.7633 0 0 1.0000 1617.36 53.70)" font-size="36.6" font-style="italic" stroke="#000" stroke-width="0.91" stroke-linejoin="round">P</text>
<text transform="matrix(0.9317 0 0 1.0000 1637.02 63.30)" font-size="24.89" font-style="italic" stroke="#000" stroke-width="0.62" stroke-linejoin="round">adh</text>
<text transform="matrix(0.9577 0 0 1.0000 1685.12 53.70)" font-size="36.6" font-style="italic" stroke="#000" stroke-width="0.82" stroke-linejoin="round">=</text>
<text transform="matrix(0.9744 0 0 1.0000 1714.06 53.70)" font-size="36.6" font-style="italic" stroke="#000" stroke-width="0.81" stroke-linejoin="round">71,5</text>
<text transform="matrix(0.8426 0 0 1.0000 1794.24 53.70)" font-size="36.6" font-style="italic" stroke="#000" stroke-width="0.87" stroke-linejoin="round">%</text>
<text transform="matrix(0.8034 0 0 0.9384 -1.79 61.32)" font-size="62" font-weight="bold">a</text>
<text transform="matrix(0.9262 0 0 0.9919 -2.03 582.69)" font-size="62" font-weight="bold">b</text>
<text transform="matrix(0.8048 0 0 0.9472 635.90 582.71)" font-size="62" font-weight="bold">c</text>
<text transform="matrix(0.9326 0 0 0.9919 1237.89 582.69)" font-size="62" font-weight="bold">d</text>
<path d="M97.23 557.15 L97.97 568.94 L99.18 573.71 L100.63 583.95 L100.85 589.27 L102.52 599.72 L103.74 610.16 L104.35 615.12 L105.4 627.32 L106.15 630.04 L107.65 637.62 L108.63 642.79 L109.94 649.29 L110.82 656.84 L112.05 657.23 L112.79 662.15 L113.9 668.18 L115.02 675.45 L115.98 687.64 L116.59 688.07 L118.33 687.23 L119.28 689.84 L119.85 693.25 L120.97 696.91 L122.12 702.43 L123.35 704.09 L124.4 704.12 L125.45 708.38 L126.5 706.89 L127.55 711.41 L128.6 711.49 L129.65 715.8 L130.7 716.93 L131.75 716.82 L132.8 715.4 L133.85 719.83 L134.9 721.49 L135.95 725.45 L137 722.54 L138.05 724.43 L139.1 725.54 L140.15 725.48 L141.2 725.66 L142.25 726.07 L143.3 724.63 L144.35 723.53 L145.4 725.27 L146.45 728.41 L147.5 731.66 L148.55 731.23 L149.6 731.23 L150.65 730.8 L151.7 730.61 L152.75 729.47 L153.8 730.77 L154.85 733.92 L155.9 729.63 L156.95 727.35 L158 733.9 L159.05 731.7 L160.1 732.33 L161.15 732.73 L162.2 727.74 L163.25 735.25 L164.3 736.38 L165.35 731.99 L166.4 732.33 L167.45 731.3 L168.5 728.4 L169.55 729.68 L170.6 731.59 L171.65 734.02 L172.7 733.77 L173.75 732.05 L174.8 735.01 L175.85 730.9 L176.9 733.41 L177.95 735.59 L179 732.52 L180.05 727.93 L181.1 729.23 L182.15 732.96 L183.2 734.79 L184.25 737.87 L185.3 732.57 L186.35 733.49 L187.4 736.18 L188.45 734.97 L189.5 729.15 L190.55 735.75 L191.6 742.21 L192.65 740.39 L193.7 734.92 L194.75 735.05 L195.8 737.34 L196.85 743.8 L197.9 741.14 L198.95 738.8 L200 742.35 L201.05 739.65 L202.1 743.6 L203.15 739.01 L204.2 737.94 L205.25 741.41 L206.3 744.38 L207.35 743.31 L208.4 742.24 L209.45 737.19 L210.5 738.88 L211.55 740.49 L212.6 741.27 L213.65 744.65 L214.7 743.7 L215.75 746.33 L216.8 745.93 L217.85 744.88 L218.9 746.21 L219.95 747.84 L221 749.82 L222.05 747.74 L223.1 748.28 L224.15 746.57 L225.2 754.07 L226.25 756.84 L226.8 753.14 L226.87 752.69 L228.35 756.44 L228.8 758.14 L229.49 756.99 L229.44 744.75 L230.52 746.56 L231.56 736.26 L233.77 728.89 L233.8 728.77 L232.85 727.82 L234.65 727.38 L235.7 724.17 L236.75 728.81 L237.8 723.91 L238.85 725.27 L239.9 731.84 L240.95 734.54 L242 727.82 L243.05 724.85 L244.1 730.64 L245.15 732.4 L246.2 727.81 L247.25 727.18 L248.3 727.42 L249.35 726.21 L250.4 727.13 L251.45 732.36 L252.5 732.43 L253.55 735.45 L254.6 731.14 L255.65 729.44 L256.7 727.3 L257.75 728.84 L258.8 726.53 L259.85 724.5 L260.9 730.36 L261.95 734.1 L263 733.17 L264.05 733.98 L265.1 731.67 L266.15 728.46 L267.2 729.77 L268.25 729.24 L269.3 727.08 L270.35 725.09 L271.4 725.2 L272.45 729.08 L273.5 730.6 L274.55 729.18 L275.6 733.49 L276.65 731.81 L277.7 731.91 L278.75 733.82 L279.8 729.23 L280.85 724.85 L281.9 730.81 L282.95 729.27 L284 733.21 L285.05 732.3 L286.1 733.27 L287.15 733.19 L288.2 725.92 L289.25 730.8 L290.3 729.45 L291.35 728.22 L292.4 728.98 L293.45 732.25 L294.5 733.47 L295.55 733.9 L296.6 727.34 L297.65 728.03 L298.7 724.39 L299.75 728.76 L300.8 732.24 L301.85 729.38 L302.9 730.91 L303.95 731.65 L305 733.61 L306.05 729.64 L307.1 728.28 L308.15 728.46 L309.2 734.82 L310.25 735.08 L311.3 731.57 L312.35 731.56 L313.4 731.57 L314.45 731.73 L315.5 730.79 L316.55 730.19 L317.6 727.82 L318.65 728.69 L319.7 734.9 L320.75 733.86 L321.8 731.87 L322.85 730.84 L323.9 731.35 L324.95 732.31 L326 730.06 L327.05 731.44 L328.1 732.2 L329.15 729.79 L330.2 728.96 L331.25 728.38 L332.3 728.03 L333.35 732.84 L334.4 726.15 L335.45 728.92 L336.5 729.6 L337.55 729.29 L338.6 731.05 L339.65 734.13 L340.7 732.25 L341.75 730.89 L342.8 729.52 L343.85 730.34 L344.9 733.28 L345.95 730.77 L347 727.88 L348.05 726.99 L349.1 727.27 L350.15 726.65 L351.2 732.63 L352.25 732.61 L353.3 730.54 L354.35 734.31 L355.4 730.26 L356.45 732.17 L357.5 733.32 L358.55 727.46 L359.6 725.64 L360.65 727.18 L361.7 732.21 L362.75 734.53 L363.8 728.49 L364.85 732.25 L365.9 730.35 L366.95 729.23 L368 728.8 L369.05 729.22 L370.1 725.62 L371.15 726.52 L372.2 726.51 L373.25 730.63 L374.3 735.89 L375.35 738.67 L376.4 731.45 L377.45 725.66 L378.5 727.87 L379.55 727.5 L380.6 734.38 L381.65 733.01 L382.7 728.68 L383.75 731.83 L384.8 732.05 L385.85 726.32 L386.9 727.41 L387.95 728.93 L389 729.77 L390.05 730.21 L391.1 729.09 L392.15 730.03 L393.2 728.46 L394.25 727.08 L395.3 732.84 L396.35 731.74 L397.4 731.04 L398.45 725.98 L399.5 728 L400.55 731.48 L401.6 726.86 L402.65 731.17 L403.7 729.16 L404.75 729.95 L405.8 729.12 L406.85 729.52 L407.9 732.16 L408.95 728.8 L410 732.43 L411.05 727.96 L412.1 725.75 L413.15 729.66 L414.2 726.37 L415.25 726.69 L416.3 730.33 L417.35 731.96 L418.4 724.64 L419.45 728.03 L420.5 733.1 L421.55 732.33 L422.6 728.14 L423.65 726.09 L424.7 726.49 L425.75 724.5 L426.8 726 L427.85 726.78 L428.9 726.86 L429.95 730.13 L431 727.51 L432.05 723.3 L433.1 728.57 L434.15 725.06 L435.2 724.95 L436.25 726.12 L437.3 725.75 L438.35 723.86 L439.4 725.17 L440.45 731.76 L441.5 726.58 L442.55 725.64 L443.6 729.12 L444.65 729.09 L445.7 728.82 L446.75 729.06 L447.8 722.03 L448.85 722.64 L449.9 725.93 L450.95 727.57 L452 729.81 L453.05 728.32 L454.1 725.9 L455.15 726.04 L456.2 725.6 L457.25 726.53 L458.3 727.91 L459.35 725.67 L460.4 723.7 L461.45 723.22 L462.5 728.04 L463.55 729.94 L464.6 729.33 L465.65 728.75 L466.7 728.56 L467.75 726.43 L468.8 727.44 L469.85 723.62 L470.9 724.43 L471.95 723.71 L473 726.94 L474.05 724.74 L475.1 724.92 L476.15 726.52 L477.2 729.26 L478.25 724.58 L479.3 722.58 L480.35 726.83 L481.4 723.31 L482.45 725.74 L483.5 724.33 L484.55 724.69 L485.6 720.73 L486.65 725.75 L487.7 724.59 L488.75 722.66 L489.8 729.77 L490.85 728.57 L491.9 734.51 L492.95 728.83 L494 724.59 L495.05 725.13 L496.1 729.2 L497.15 726.21 L498.2 726.15 L499.25 726.65 L500.3 723.11 L501.35 724.61 L502.4 723.79 L503.45 721.44 L504.5 726.16 L505.55 727.21 L506.6 725.56 L507.65 722.64 L508.7 719.13 L509.75 724.52 L510.8 724.91 L511.85 720.48 L512.9 723.33 L513.95 720.88 L515 723.5 L516.05 725.02 L517.1 725.66 L518.15 725.45 L519.2 725.21 L520.25 721.88 L521.3 722.77 L522.35 722.99 L523.4 723.57 L524.45 725.02 L525.5 726.25 L526.55 729.03 L527.6 719.26 L528.65 723.51 L529.7 724.22 L530.75 729.94 L531.8 728.42 L532.85 720.92 L533.9 724.1 L534.95 723.31 L536 726.39 L537.05 722.38 L538.1 723.2 L539.15 723.82 L540.2 723.87 L541.25 722.66 L542.3 719.13 L543.35 723.92 L544.4 726.97 L545.45 724.68 L546.5 721.49 L547.55 723.81 L548.6 725.61 L549.65 724.01 L550.7 723.84 L551.75 727.49 L552.8 722.22 L553.85 721.71 L554.9 718.74 L555.95 720.72 L557 721.5 L558.05 720.9 L559.1 721.38 L560.15 727.79 L561 724.66" stroke="#ff0000" stroke-width="2.9" stroke-linejoin="round" stroke-linecap="round" fill="none"/>
<path d="M89.55 614.36 L90.84 628.54 L91.86 631.33 L92.49 635.67 L93.64 645.96 L94.77 655.74 L95.42 659.02 L96.22 666.88 L97.89 676.03 L98.73 685.58 L100.31 690.71 L100.78 696.21 L101.97 702.66 L103.14 706.67 L103.84 707.28 L106.23 711.06 L106.96 714.31 L107.31 722.25 L109.01 727.18 L109.36 728.21 L110.73 734.07 L111.81 740.24 L112.68 737.18 L114.03 738.22 L114.65 745.33 L115.85 745.09 L116.9 750.2 L117.95 749.96 L119 754.85 L120.05 752.02 L121.1 753.83 L122.15 754.8 L123.2 754.19 L124.25 764.56 L125.3 765.69 L126.35 759.71 L127.4 762.52 L128.45 757.72 L129.5 764.59 L130.55 767.37 L131.6 764.14 L132.65 763.65 L133.7 765.87 L134.75 767.55 L135.8 766.22 L136.85 764.95 L137.9 766.77 L138.95 767.45 L140 771.15 L141.05 770.7 L142.1 770.86 L143.15 766.31 L144.2 768.5 L145.25 769.8 L146.3 769.78 L147.35 771.06 L148.4 771.21 L149.45 768.18 L150.5 774 L151.55 776.21 L152.6 772.75 L153.65 774.85 L154.7 771.88 L155.75 770 L156.8 772.74 L157.85 778.4 L158.9 775.66 L159.95 770.82 L161 774.57 L162.05 774.04 L163.1 773.24 L164.15 776.16 L165.2 771.71 L166.25 770.15 L167.3 771.21 L168.35 778.38 L169.4 778.01 L170.45 775.6 L171.5 775.01 L172.55 778.65 L173.6 781.43 L174.65 776.88 L175.7 778.09 L176.75 784.56 L177.8 781.77 L178.85 778.11 L179.9 779.29 L180.95 779.38 L182 780.84 L183.05 780.63 L184.1 778.32 L185.15 778.81 L186.2 780.58 L187.25 778.34 L188.3 779.67 L189.35 777.84 L190.4 782.89 L191.45 785.59 L192.5 779.64 L193.55 782.41 L194.6 782.15 L195.65 781.56 L196.7 780.68 L197.75 781.86 L198.8 784.29 L199.85 779.1 L200.9 783.31 L201.95 781.8 L203 778.69 L204.05 780.87 L205.1 783.58 L206.15 782.3 L207.2 782.82 L208.25 781.55 L209.3 780.61 L210.35 784.57 L211.4 780.79 L212.45 784.41 L213.5 784.29 L214.55 782.24 L215.6 781.98 L216.65 781.94 L217.7 782.64 L218.75 782.89 L219.8 782.72 L220.85 778.12 L221.9 776.67 L222.95 783.35 L224 783.15 L225.05 782.95 L226.1 784.46 L227.15 782.74 L228.2 789.34 L229.25 787.78 L230.3 786.54 L231.35 784.52 L232.4 789.29 L233.45 790.88 L234.5 793.36 L235.55 793.04 L236.6 788.76 L237.65 786.87 L238.7 793.99 L239.75 791.36 L240.8 791.87 L241.85 792.81 L242.9 795.11 L243.95 796.37 L245 792.92 L246.05 793.37 L247.1 791.58 L248.15 797.42 L249.2 798.08 L250.25 794.3 L251.3 800.92 L252.35 801.12 L253.4 798.41 L254.45 799.9 L255.5 800.66 L256.55 803.05 L257.6 804.59 L258.65 803.45 L259.7 806.32 L260.75 800.15 L261.8 804.52 L262.85 809.72 L263.9 812.15 L264.95 812.88 L266 809.03 L267.05 807.3 L268.1 811.67 L269.15 820.85 L270.2 819.06 L271.25 816.29 L272.3 814.48 L273.35 819.82 L274.4 820.74 L275.45 823.78 L276.5 824.77 L277.55 819.04 L278.6 823.85 L279.65 828.97 L280.7 827.16 L281.75 826.27 L282.8 827.7 L283.85 829.1 L284 838.28 L284.7 827.49 L285.24 818.83 L285.7 810.95 L287.25 798.77 L288.33 791.82 L288.67 782.65 L289.1 780.99 L290.15 782.47 L291.2 779.77 L292.25 781.72 L293.3 783.14 L294.35 784.58 L295.4 780.43 L296.45 782.3 L297.5 782.92 L298.55 780.04 L299.6 776.24 L300.65 779 L301.7 783.75 L302.75 781.89 L303.8 787.55 L304.85 785.12 L305.9 780.52 L306.95 781.12 L308 783.03 L309.05 783.51 L310.1 781.69 L311.15 782.91 L312.2 789.85 L313.25 786.54 L314.3 783.05 L315.35 780.84 L316.4 777 L317.45 781 L318.5 781.01 L319.55 781.48 L320.6 780.48 L321.65 783.47 L322.7 785.25 L323.75 780.95 L324.8 777.87 L325.85 781.67 L326.9 785.69 L327.95 784.02 L329 783.46 L330.05 778.71 L331.1 779.43 L332.15 782.97 L333.2 783.29 L334.25 782.16 L335.3 783.36 L336.35 784.52 L337.4 782.78 L338.45 780.16 L339.5 777.77 L340.55 781.35 L341.6 781.62 L342.65 781.31 L343.7 784.58 L344.75 781.07 L345.8 780.7 L346.85 783.35 L347.9 780.13 L348.95 775.74 L350 778.85 L351.05 783.54 L352.1 780.97 L353.15 780.8 L354.2 776.98 L355.25 783.5 L356.3 778.35 L357.35 778.86 L358.4 780.92 L359.45 786.69 L360.5 783.65 L361.55 780.14 L362.6 777.53 L363.65 779.95 L364.7 778.52 L365.75 779.36 L366.8 781.52 L367.85 785 L368.9 779.99 L369.95 784.49 L371 777.98 L372.05 785.31 L373.1 781.7 L374.15 780.43 L375.2 780.38 L376.25 782.09 L377.3 781.9 L378.35 780.99 L379.4 779.84 L380.45 779.95 L381.5 781.59 L382.55 780.55 L383.6 779.71 L384.65 777.68 L385.7 780.83 L386.75 783.12 L387.8 779.64 L388.85 783.61 L389.9 782.52 L390.95 782.09 L392 777.62 L393.05 782.13 L394.1 785.51 L395.15 787.71 L396.2 781.78 L397.25 781.24 L398.3 783.69 L399.35 783.76 L400.4 780.65 L401.45 781.53 L402.5 784.38 L403.55 784.01 L404.6 782.14 L405.65 784.45 L406.7 778.89 L407.75 781.83 L408.8 780.52 L409.85 780.44 L410.9 783.62 L411.95 786.86 L413 784.32 L414.05 782.52 L415.1 786.11 L416.15 785.01 L417.2 776.87 L418.25 778.67 L419.3 779.74 L420.35 779.67 L421.4 777.59 L422.45 782.37 L423.5 782.8 L424.55 786.39 L425.6 782.48 L426.65 781.97 L427.7 780.09 L428.75 783.88 L429.8 785.83 L430.85 787.06 L431.9 785.72 L432.95 781.21 L434 784.51 L435.05 780.54 L436.1 779.68 L437.15 780.97 L438.2 787.01 L439.25 781.72 L440.3 778.9 L441.35 781.77 L442.4 785.07 L443.45 784.23 L444.5 783.73 L445.55 780.24 L446.6 780.32 L447.65 784.84 L448.7 783.16 L449.75 780.4 L450.8 780.58 L451.85 785.04 L452.9 787.25 L453.95 784.26 L455 780.2 L456.05 785.5 L457.1 781.59 L458.15 781.73 L459.2 783.08 L460.25 782.25 L461.3 781.51 L462.35 785.86 L463.4 783.96 L464.45 778.63 L465.5 779.42 L466.55 784.8 L467.6 782.51 L468.65 779.28 L469.7 783.47 L470.75 783.85 L471.8 782.43 L472.85 783.41 L473.9 781.45 L474.95 782.13 L476 783.55 L477.05 781.01 L478.1 784.65 L479.15 780.28 L480.2 786.34 L481.25 783.7 L482.3 782.95 L483.35 779.22 L484.4 783.01 L485.45 780.47 L486.5 782.57 L487.55 782.37 L488.6 779.96 L489.65 785.76 L490.7 783.7 L491.75 780.81 L492.8 780.68 L493.85 782.5 L494.9 782.34 L495.95 784.13 L497 781.19 L498.05 782.09 L499.1 780.92 L500.15 779.86 L501.2 783.46 L502.25 780.56 L503.3 777.32 L504.35 782.39 L505.4 781.19 L506.45 782.99 L507.5 783.7 L508.55 783.62 L509.6 782.55 L510.65 785.89 L511.7 780.54 L512.75 784.09 L513.8 782.49 L514.85 782.61 L515.9 781.16 L516.95 783.81 L518 783.83 L519.05 781.25 L520.1 781.8 L521.15 783.23 L522.2 782.01 L523.25 788.03 L524.3 785.25 L525.35 781.46 L526.4 784.24 L527.45 783.43 L528.5 780.93 L529.55 780.78 L530.6 777.8 L531.65 782.7 L532.7 786.32 L533.75 782.94 L534.8 779.97 L535.85 777.15 L536.9 777.72 L537.95 781.1 L539 780.43 L540.05 781.15 L541.1 779.82 L542.15 780.99 L543.2 781.33 L544.25 782.29 L545.3 782.37 L546.35 782.55 L547.4 780.14 L548.45 780.7 L549.5 778.78 L550.55 779.86 L551.6 781.54 L552.65 783.04 L553.7 779 L554.75 778.64 L555.8 779.97 L556.85 778.61 L557.9 780.38 L558.95 781.29 L560 780.06 L561 785.44" stroke="#0000ff" stroke-width="2.9" stroke-linejoin="round" stroke-linecap="round" fill="none"/>
<path d="M90.39 686.24 L91.39 694.99 L92.1 699.16 L93.63 708.05 L94.4 714.61 L95.83 718.5 L96.83 728.78 L97.78 742.54 L99.29 748.31 L100.05 754.78 L100.74 760.4 L102.45 764.84 L103.01 775.59 L104.09 779.88 L105.64 790 L106.59 791.43 L107.05 796.95 L108.67 800.62 L109.78 803.2 L110.57 809.39 L111.93 811.18 L112.81 815.48 L113.7 822.94 L114.75 822.82 L115.8 822.99 L116.85 821.97 L117.9 827.68 L118.95 831.38 L120 834.43 L121.05 836.46 L122.1 838.67 L123.15 839.47 L124.2 840.73 L125.25 843.6 L126.3 842.63 L127.35 842.84 L128.4 844.43 L129.45 848.97 L130.5 846.73 L131.55 849.44 L132.6 852.03 L133.65 854.4 L134.7 852.36 L135.75 855 L136.8 856.67 L137.85 856.14 L138.9 858.12 L139.95 858.88 L141 856.88 L142.05 858.36 L143.1 857.82 L144.15 864.58 L145.2 861.67 L146.25 859.39 L147.3 857.35 L148.35 860.57 L149.4 862.84 L150.45 862.54 L151.5 858.85 L152.55 858.67 L153.6 858.81 L154.65 861.95 L155.7 860.38 L156.75 861.49 L157.8 866.72 L158.85 859.11 L159.9 860.39 L160.95 862.17 L162 858.71 L163.05 863.95 L164.1 862.62 L165.15 863.26 L166.2 864.27 L167.25 866.51 L168.3 862.06 L169.35 860.61 L170.4 859.06 L171.45 858.9 L172.5 866.76 L173.55 863.69 L174.6 859.11 L175.65 864.43 L176.7 869.16 L177.75 863.45 L178.8 863.98 L179.85 861.6 L180.9 859.33 L181.95 863.65 L183 862.79 L184.05 862.25 L185.1 865.44 L186.15 867.48 L187.2 866.46 L188.25 869.92 L189.3 866.46 L190.35 865.99 L191.4 869.47 L192.45 873.96 L193.5 874.65 L194.55 872.03 L195.6 869.42 L196.65 865.45 L197.7 871.67 L198.75 870.21 L199.8 875.39 L200.85 871.85 L201.9 865.45 L202.95 871.92 L204 872.18 L205.05 870.01 L206.1 871.54 L207.15 872.02 L208.2 872.93 L209.25 868.21 L210.3 871.41 L211.35 874.06 L212.4 870.42 L213.45 875.73 L214.5 874.26 L215.55 868.7 L216.6 876.65 L217.65 874.69 L218.7 874.53 L219.75 874.48 L220.8 879.95 L221.85 877.27 L222.9 874.48 L223.95 874.53 L225 878.11 L226.05 879.57 L227.1 876.9 L228.15 880.46 L229.2 878.07 L230.25 879.44 L231.3 881.5 L232.35 881.63 L233.4 882.04 L234.45 883.12 L235.5 882.21 L236.55 884.49 L237.6 886.37 L238.65 883.56 L239.7 882.95 L240.75 888.2 L241.8 889.72 L242.85 891.01 L243.9 893.66 L244.95 894.22 L246 892.77 L247.05 896.08 L248.1 895.09 L249.15 901.56 L250.2 902.98 L251.25 901.2 L252.3 900.09 L253.35 903.77 L254.4 904.3 L255.45 903.64 L256.5 908.04 L257.55 909.72 L258.6 913.07 L259.65 912.81 L260.7 919.04 L261.75 921.9 L262.8 915.23 L263.54 915.29 L265.15 925.02 L266.07 927.21 L267.08 926.53 L268.15 928.98 L268.04 930.86 L269.33 933.93 L269.42 941.66 L270.03 936.35 L271.61 906.55 L271.35 899.41 L272.85 889.83 L272.97 873.13 L274.3 860.46 L274.35 863.74 L275.4 863.53 L276.45 861.7 L277.5 861.76 L278.55 861.91 L279.6 860.75 L280.65 857.97 L281.7 861.26 L282.75 861.76 L283.8 862.7 L284.85 860.76 L285.9 858.89 L286.95 861.67 L288 862.89 L289.05 865.28 L290.1 858.21 L291.15 858.05 L292.2 859.24 L293.25 865.36 L294.3 856.06 L295.35 860.8 L296.4 858.93 L297.45 856.99 L298.5 861.5 L299.55 862.69 L300.6 852.82 L301.65 854.68 L302.7 859.2 L303.75 858.84 L304.8 862.5 L305.85 858.85 L306.9 858.79 L307.95 854.39 L309 859.75 L310.05 860.51 L311.1 861.85 L312.15 858.8 L313.2 864.04 L314.25 859.73 L315.3 863.82 L316.35 865.78 L317.4 859.02 L318.45 859.72 L319.5 858.44 L320.55 854.92 L321.6 859.9 L322.65 860.31 L323.7 863.2 L324.75 864.8 L325.8 856.75 L326.85 857.74 L327.9 860.54 L328.95 862.18 L330 860.79 L331.05 857.9 L332.1 858.53 L333.15 861.14 L334.2 856.93 L335.25 855.31 L336.3 855.42 L337.35 856.97 L338.4 862.32 L339.45 859.37 L340.5 860.93 L341.55 863.43 L342.6 863.51 L343.65 860.98 L344.7 859.37 L345.75 859.28 L346.8 858.64 L347.85 857.4 L348.9 860.06 L349.95 862.05 L351 858.66 L352.05 856.72 L353.1 858.65 L354.15 859.4 L355.2 861.34 L356.25 860.44 L357.3 859.75 L358.35 855.62 L359.4 857.02 L360.45 858.14 L361.5 857.46 L362.55 859.92 L363.6 859.64 L364.65 857.33 L365.7 859.72 L366.75 862.4 L367.8 865.95 L368.85 860.8 L369.9 857.98 L370.95 860.98 L372 864.03 L373.05 859.08 L374.1 860.4 L375.15 859.12 L376.2 861.23 L377.25 858.09 L378.3 857.59 L379.35 858.17 L380.4 858.54 L381.45 855.87 L382.5 857.55 L383.55 856.88 L384.6 863.13 L385.65 863.87 L386.7 858.6 L387.75 857.43 L388.8 859.59 L389.85 857.96 L390.9 857.26 L391.95 860.28 L393 862.27 L394.05 861.03 L395.1 862.85 L396.15 860.16 L397.2 858.73 L398.25 857.89 L399.3 857.55 L400.35 856.63 L401.4 861.87 L402.45 862.2 L403.5 859.21 L404.55 858.96 L405.6 856.74 L406.65 859.77 L407.7 858.88 L408.75 858.3 L409.8 857.94 L410.85 854.88 L411.9 856.31 L412.95 862.15 L414 857.84 L415.05 855.87 L416.1 857.44 L417.15 856.22 L418.2 855.54 L419.25 855.08 L420.3 855.44 L421.35 857.95 L422.4 852.95 L423.45 853.39 L424.5 854.23 L425.55 857.64 L426.6 856.35 L427.65 858.87 L428.7 856.79 L429.75 860.57 L430.8 855 L431.85 861.81 L432.9 856.78 L433.95 856.73 L435 855.7 L436.05 857.07 L437.1 861.95 L438.15 861.61 L439.2 857.8 L440.25 859.3 L441.3 863.09 L442.35 861.34 L443.4 858.2 L444.45 859.18 L445.5 859.83 L446.55 854.46 L447.6 855.79 L448.65 858.24 L449.7 863.07 L450.75 861.58 L451.8 859.59 L452.85 854.71 L453.9 856.16 L454.95 854.4 L456 857.57 L457.05 857.05 L458.1 859.96 L459.15 858.94 L460.2 858.46 L461.25 859.22 L462.3 860.93 L463.35 858.24 L464.4 856.84 L465.45 858.37 L466.5 866.19 L467.55 859.25 L468.6 855.91 L469.65 858.63 L470.7 854.8 L471.75 858.56 L472.8 855.88 L473.85 856.68 L474.9 857.39 L475.95 855.91 L477 858.78 L478.05 858.6 L479.1 860.71 L480.15 860.4 L481.2 857.57 L482.25 859.68 L483.3 860.31 L484.35 859.01 L485.4 858.85 L486.45 861.12 L487.5 857.44 L488.55 860.81 L489.6 859.68 L490.65 859.72 L491.7 861.19 L492.75 865.5 L493.8 857.83 L494.85 854.01 L495.9 859.77 L496.95 857.95 L498 857.92 L499.05 854.49 L500.1 859.72 L501.15 859.65 L502.2 854.4 L503.25 859.39 L504.3 858.67 L505.35 856.7 L506.4 853.28 L507.45 861.26 L508.5 857.12 L509.55 858.97 L510.6 856.91 L511.65 855.06 L512.7 859.7 L513.75 860.32 L514.8 859.96 L515.85 857.29 L516.9 858.89 L517.95 859.8 L519 861.76 L520.05 858.66 L521.1 858.67 L522.15 859.99 L523.2 852.72 L524.25 856.83 L525.3 861.86 L526.35 860.57 L527.4 859.25 L528.45 860 L529.5 861.52 L530.55 854.47 L531.6 854.89 L532.65 855.1 L533.7 853.64 L534.75 859.12 L535.8 856.19 L536.85 857.35 L537.9 859.35 L538.95 861.12 L540 855.02 L541.05 852.94 L542.1 851.76 L543.15 857.22 L544.2 855.66 L545.25 858.07 L546.3 860.47 L547.35 863 L548.4 856.48 L549.45 857.23 L550.5 857.8 L551.55 852.51 L552.6 857.93 L553.65 861.65 L554.7 855.41 L555.75 858.2 L556.8 858.81 L557.85 858.25 L558.9 855.08 L559.95 854.13 L561 862.56 L561 862.2" stroke="#008000" stroke-width="2.9" stroke-linejoin="round" stroke-linecap="round" fill="none"/>
<path d="M445.4 604.9V658.9H548.8" stroke="#000" stroke-width="3" fill="none" stroke-linejoin="miter"/>
<text transform="matrix(1.0446 0 0 0.9969 459.53 686.91)" font-size="24.3" stroke="#000" stroke-width="0.69" stroke-linejoin="round">50 nm</text>
<text transform="matrix(0 -1.0504 1.0853 0 433.71 674.33)" font-size="24.3" stroke="#000" stroke-width="0.66" stroke-linejoin="round">200 pN</text>
<path d="M744.3 945.75L752.6 945.75M748.5 930.08L752.6 930.08M748.5 914.41L752.6 914.41M748.5 898.74L752.6 898.74M748.5 883.07L752.6 883.07M744.3 867.4L752.6 867.4M748.5 851.73L752.6 851.73M748.5 836.06L752.6 836.06M748.5 820.39L752.6 820.39M748.5 804.72L752.6 804.72M744.3 789.05L752.6 789.05M748.5 773.38L752.6 773.38M748.5 757.71L752.6 757.71M748.5 742.04L752.6 742.04M748.5 726.37L752.6 726.37M744.3 710.7L752.6 710.7M748.5 695.03L752.6 695.03M748.5 679.36L752.6 679.36M748.5 663.69L752.6 663.69M748.5 648.02L752.6 648.02M744.3 632.35L752.6 632.35M748.5 616.68L752.6 616.68M748.5 601.01L752.6 601.01M748.5 585.34L752.6 585.34M748.5 569.67L752.6 569.67M744.3 554L752.6 554M833.3 945.75L833.3 953.95M995.4 945.75L995.4 953.95M1157.6 945.75L1157.6 953.95" stroke="#000" stroke-width="1.35" fill="none"/>
<path d="M752.6 553.3V945.75H1238.8" stroke="#2e2e2e" stroke-width="1.6" fill="none" stroke-linejoin="miter"/>
<text transform="matrix(1.0000 0 0 0.9350 724.56 953.27)" font-size="26.1" stroke="#000" stroke-width="0.83" stroke-linejoin="round">0</text>
<text transform="matrix(1.0000 0 0 0.9350 695.46 874.92)" font-size="26.1" stroke="#000" stroke-width="0.83" stroke-linejoin="round">100</text>
<text transform="matrix(1.0000 0 0 0.9350 695.46 796.57)" font-size="26.1" stroke="#000" stroke-width="0.83" stroke-linejoin="round">200</text>
<text transform="matrix(1.0000 0 0 0.9350 695.46 718.22)" font-size="26.1" stroke="#000" stroke-width="0.83" stroke-linejoin="round">300</text>
<text transform="matrix(1.0000 0 0 0.9350 695.46 639.87)" font-size="26.1" stroke="#000" stroke-width="0.83" stroke-linejoin="round">400</text>
<text transform="matrix(1.0000 0 0 0.9350 695.46 561.52)" font-size="26.1" stroke="#000" stroke-width="0.83" stroke-linejoin="round">500</text>
<text transform="matrix(1.0067 0 0 0.9900 792.74 979.10)" font-size="25.6" stroke="#000" stroke-width="0.8" stroke-linejoin="round">Peak 1</text>
<text transform="matrix(1.0067 0 0 0.9900 954.84 979.10)" font-size="25.6" stroke="#000" stroke-width="0.8" stroke-linejoin="round">Peak 2</text>
<text transform="matrix(1.0067 0 0 0.9900 1117.04 979.10)" font-size="25.6" stroke="#000" stroke-width="0.8" stroke-linejoin="round">Peak 3</text>
<text transform="matrix(0 -1.0019 1.0400 0 684.60 892.14)" font-size="29.5" font-weight="bold" stroke="#000" stroke-width="0.39" stroke-linejoin="round">Adhesion force (pN)</text>
<rect x="781.4" y="851.4" width="103.2" height="30" fill="#ffd6d6" stroke="#ff0000" stroke-width="2.3"/>
<path d="M781.4 863.4H886.2" stroke="#ff0000" stroke-width="2.6" fill="none" stroke-linecap="round"/>
<path d="M807.2 851.4H859.8M807.2 881.6H859.8M833.3 850.4V851.4M833.3 882.4V881.6" stroke="#ff0000" stroke-width="2.8" fill="none" stroke-linecap="round"/>
<polygon points="833.3,856.8 835.48,863.44 842.15,863.57 836.82,867.81 838.77,874.53 833.3,870.5 827.83,874.53 829.78,867.81 824.45,863.57 831.12,863.44" fill="#ff0000"/>
<path d="M794.3 854.9l3.3 3.3l-3.3 3.3l-3.3 -3.3zM820.2 849.4l3.3 3.3l-3.3 3.3l-3.3 -3.3zM846.3 844l3.3 3.3l-3.3 3.3l-3.3 -3.3zM872.5 859.8l3.3 3.3l-3.3 3.3l-3.3 -3.3zM833.4 871.4l3.3 3.3l-3.3 3.3l-3.3 -3.3zM807.4 879.6l3.3 3.3l-3.3 3.3l-3.3 -3.3zM833.4 878.7l3.3 3.3l-3.3 3.3l-3.3 -3.3zM859.3 881.9l3.3 3.3l-3.3 3.3l-3.3 -3.3z" fill="#ff0000"/>
<rect x="942.9" y="746.6" width="103.5" height="67.9" fill="#d0f3ff" stroke="#0000ff" stroke-width="2.3"/>
<path d="M942.9 784.6H1048" stroke="#0000ff" stroke-width="2.6" fill="none" stroke-linecap="round"/>
<path d="M969.2 751.4H1021.8M969.2 814.7H1021.8M995.4 745.6V751.4M995.4 815.5V814.7" stroke="#0000ff" stroke-width="2.8" fill="none" stroke-linecap="round"/>
<polygon points="995.4,773.4 997.58,780.04 1004.25,780.17 998.92,784.41 1000.87,791.13 995.4,787.1 989.93,791.13 991.88,784.41 986.55,780.17 993.22,780.04" fill="#0000ff"/>
<path d="M977.9 743.5l3.3 3.3l-3.3 3.3l-3.3 -3.3zM1012.7 742.6l3.3 3.3l-3.3 3.3l-3.3 -3.3zM1012.7 758.5l3.3 3.3l-3.3 3.3l-3.3 -3.3zM977.9 781.3l3.3 3.3l-3.3 3.3l-3.3 -3.3zM995.4 801.4l3.3 3.3l-3.3 3.3l-3.3 -3.3zM1030 811.4l3.3 3.3l-3.3 3.3l-3.3 -3.3zM960.6 819l3.3 3.3l-3.3 3.3l-3.3 -3.3z" fill="#0000ff"/>
<rect x="1104.5" y="636.8" width="103.8" height="73.1" fill="#ccffcc" stroke="#008000" stroke-width="2.3"/>
<path d="M1104.5 688.8H1209.9" stroke="#008000" stroke-width="2.6" fill="none" stroke-linecap="round"/>
<path d="M1131.6 642.8H1184.1M1131.6 719.8H1184.1M1157.5 635.8V642.8M1157.5 710.9V719.8" stroke="#008000" stroke-width="2.8" fill="none" stroke-linecap="round"/>
<polygon points="1157.5,671.6 1159.68,678.24 1166.35,678.37 1161.02,682.61 1162.97,689.33 1157.5,685.3 1152.03,689.33 1153.98,682.61 1148.65,678.37 1155.32,678.24" fill="#008000"/>
<path d="M1157.5 619.1l3.3 3.3l-3.3 3.3l-3.3 -3.3zM1157.5 633.8l3.3 3.3l-3.3 3.3l-3.3 -3.3zM1118.6 675.8l3.3 3.3l-3.3 3.3l-3.3 -3.3zM1144.4 685.8l3.3 3.3l-3.3 3.3l-3.3 -3.3zM1196.6 700.2l3.3 3.3l-3.3 3.3l-3.3 -3.3zM1170.3 707.3l3.3 3.3l-3.3 3.3l-3.3 -3.3zM1157.5 724.1l3.3 3.3l-3.3 3.3l-3.3 -3.3z" fill="#008000"/>
<path d="M1371.65 944.7V934.12h6.35V944.7zM1379.49 944.7V833.6h6.35V944.7zM1387.33 944.7V621.86h6.35V944.7zM1395.17 944.7V638.19h6.35V944.7zM1403.01 944.7V576.8h6.35V944.7zM1410.85 944.7V610.59h6.35V944.7zM1418.69 944.7V671.98h6.35V944.7zM1426.53 944.7V733.36h6.35V944.7zM1434.37 944.7V800.65h6.35V944.7zM1442.21 944.7V749.97h6.35V944.7zM1450.05 944.7V867.39h6.35V944.7zM1457.89 944.7V867.39h6.35V944.7zM1465.73 944.7V867.39h6.35V944.7zM1473.57 944.7V889.91h6.35V944.7zM1481.41 944.7V917.51h6.35V944.7zM1489.25 944.7V900.89h6.35V944.7zM1497.09 944.7V906.24h6.35V944.7zM1504.93 944.7V911.87h6.35V944.7zM1512.77 944.7V906.24h6.35V944.7zM1520.61 944.7V929.05h6.35V944.7zM1528.45 944.7V929.05h6.35V944.7zM1536.29 944.7V939.75h6.35V944.7zM1544.13 944.7V939.75h6.35V944.7zM1551.97 944.7V939.75h6.35V944.7zM1559.81 944.7V939.75h6.35V944.7zM1630.37 944.7V939.75h6.35V944.7z" fill="#ffffff" stroke="#000" stroke-width="1.1" stroke-linejoin="miter"/>
<path d="M1371 549.83L1371 945.38M1370.33 944.7L1861.67 944.7M1362.8 944.7L1371 944.7M1366.8 916.54L1371 916.54M1362.8 888.39L1371 888.39M1366.8 860.23L1371 860.23M1362.8 832.07L1371 832.07M1366.8 803.91L1371 803.91M1362.8 775.76L1371 775.76M1366.8 747.6L1371 747.6M1362.8 719.44L1371 719.44M1366.8 691.29L1371 691.29M1362.8 663.13L1371 663.13M1366.8 634.97L1371 634.97M1362.8 606.81L1371 606.81M1366.8 578.66L1371 578.66M1362.8 550.5L1371 550.5M1371 944.7L1371 952.9M1390.6 944.7L1390.6 948.9M1410.2 944.7L1410.2 948.9M1429.8 944.7L1429.8 948.9M1449.4 944.7L1449.4 948.9M1469 944.7L1469 952.9M1488.6 944.7L1488.6 948.9M1508.2 944.7L1508.2 948.9M1527.8 944.7L1527.8 948.9M1547.4 944.7L1547.4 948.9M1567 944.7L1567 952.9M1586.6 944.7L1586.6 948.9M1606.2 944.7L1606.2 948.9M1625.8 944.7L1625.8 948.9M1645.4 944.7L1645.4 948.9M1665 944.7L1665 952.9M1684.6 944.7L1684.6 948.9M1704.2 944.7L1704.2 948.9M1723.8 944.7L1723.8 948.9M1743.4 944.7L1743.4 948.9M1763 944.7L1763 952.9M1782.6 944.7L1782.6 948.9M1802.2 944.7L1802.2 948.9M1821.8 944.7L1821.8 948.9M1841.4 944.7L1841.4 948.9M1861 944.7L1861 952.9" stroke="#000" stroke-width="1.35" fill="none"/>
<text transform="matrix(1.0150 0 0 1.0100 1340.63 953.20)" font-size="29" stroke="#000" stroke-width="0.89" stroke-linejoin="round">0</text>
<text transform="matrix(1.0150 0 0 1.0100 1340.63 896.89)" font-size="29" stroke="#000" stroke-width="0.89" stroke-linejoin="round">2</text>
<text transform="matrix(1.0150 0 0 1.0100 1340.63 840.57)" font-size="29" stroke="#000" stroke-width="0.89" stroke-linejoin="round">4</text>
<text transform="matrix(1.0150 0 0 1.0100 1340.63 784.26)" font-size="29" stroke="#000" stroke-width="0.89" stroke-linejoin="round">6</text>
<text transform="matrix(1.0150 0 0 1.0100 1340.63 727.94)" font-size="29" stroke="#000" stroke-width="0.89" stroke-linejoin="round">8</text>
<text transform="matrix(1.0150 0 0 1.0100 1324.26 671.63)" font-size="29" stroke="#000" stroke-width="0.89" stroke-linejoin="round">10</text>
<text transform="matrix(1.0150 0 0 1.0100 1324.26 615.31)" font-size="29" stroke="#000" stroke-width="0.89" stroke-linejoin="round">12</text>
<text transform="matrix(1.0150 0 0 1.0100 1324.26 559.00)" font-size="29" stroke="#000" stroke-width="0.89" stroke-linejoin="round">14</text>
<text transform="matrix(1.0150 0 0 1.0100 1361.41 980.40)" font-size="29" stroke="#000" stroke-width="0.89" stroke-linejoin="round">0</text>
<text transform="matrix(1.0150 0 0 1.0100 1443.04 980.40)" font-size="29" stroke="#000" stroke-width="0.89" stroke-linejoin="round">100</text>
<text transform="matrix(1.0150 0 0 1.0100 1541.04 980.40)" font-size="29" stroke="#000" stroke-width="0.89" stroke-linejoin="round">200</text>
<text transform="matrix(1.0150 0 0 1.0100 1639.04 980.40)" font-size="29" stroke="#000" stroke-width="0.89" stroke-linejoin="round">300</text>
<text transform="matrix(1.0150 0 0 1.0100 1737.04 980.40)" font-size="29" stroke="#000" stroke-width="0.89" stroke-linejoin="round">400</text>
<text transform="matrix(1.0150 0 0 1.0100 1835.04 980.40)" font-size="29" stroke="#000" stroke-width="0.89" stroke-linejoin="round">500</text>
<text transform="matrix(0 -1.0233 1.0400 0 1314.50 853.78)" font-size="29.8" font-weight="bold" stroke="#000" stroke-width="0.39" stroke-linejoin="round">Frequency (%)</text>
<text transform="matrix(1.0401 0 0 1.0400 1468.19 1028.40)" font-size="29.8" font-weight="bold" stroke="#000" stroke-width="0.38" stroke-linejoin="round">Rupture length (nm)</text>
<text transform="matrix(1.0087 0 0 1.0000 1429.78 593.90)" font-size="36.9" font-style="italic" stroke="#000" stroke-width="0.8" stroke-linejoin="round">Merge</text>
<text transform="matrix(1.0411 0 0 1.0000 1543.36 593.90)" font-size="36.9" font-style="italic" stroke="#000" stroke-width="0.78" stroke-linejoin="round">of</text>
<text transform="matrix(0.9491 0 0 1.0000 1585.68 593.90)" font-size="36.9" font-style="italic" stroke="#000" stroke-width="0.82" stroke-linejoin="round">pairs</text>
<text transform="matrix(0.9230 0 0 1.0000 1672.45 593.90)" font-size="36.9" font-style="italic" stroke="#000" stroke-width="0.83" stroke-linejoin="round">1,</text>
<text transform="matrix(0.9149 0 0 1.0000 1711.17 593.90)" font-size="36.9" font-style="italic" stroke="#000" stroke-width="0.84" stroke-linejoin="round">2</text>
<text transform="matrix(0.9574 0 0 1.0000 1740.32 593.90)" font-size="36.9" font-style="italic" stroke="#000" stroke-width="0.82" stroke-linejoin="round">and</text>
<text transform="matrix(0.9225 0 0 1.0000 1808.35 593.90)" font-size="36.9" font-style="italic" stroke="#000" stroke-width="0.83" stroke-linejoin="round">3</text>
</svg>
</body>
</html>
